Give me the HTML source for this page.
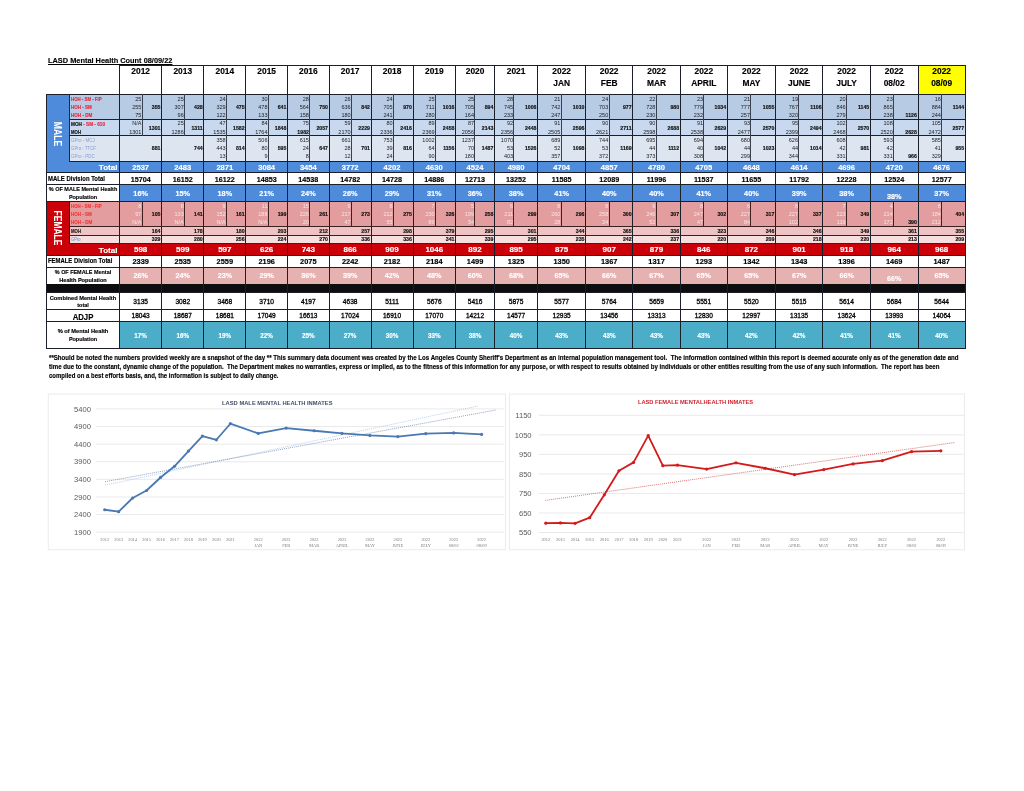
<!DOCTYPE html>
<html><head><meta charset="utf-8"><style>
html,body{margin:0;padding:0;background:#fff;width:1024px;height:791px;overflow:hidden;}
body{position:relative;font-family:"Liberation Sans", sans-serif;}
#pg div{position:absolute;}
#pg{position:absolute;left:0;top:0;width:1024px;height:791px;filter:blur(0.4px);}
.t{white-space:nowrap;font-family:"Liberation Sans", sans-serif;}
</style></head><body><div id="pg">
<svg width="1024" height="791" style="position:absolute;left:0;top:0">
<rect x="48.2" y="394" width="457.2" height="155.8" fill="#fff" stroke="#e6e6e6" stroke-width="0.8"/>
<rect x="509.3" y="394" width="455.1" height="155.8" fill="#fff" stroke="#e6e6e6" stroke-width="0.8"/>
<line x1="96" y1="532.20" x2="503.6" y2="532.20" stroke="#e3e3e3" stroke-width="0.8"/>
<text x="91" y="534.90" font-size="7.6" fill="#595959" text-anchor="end" font-family="Liberation Sans">1900</text>
<line x1="96" y1="514.59" x2="503.6" y2="514.59" stroke="#e3e3e3" stroke-width="0.8"/>
<text x="91" y="517.29" font-size="7.6" fill="#595959" text-anchor="end" font-family="Liberation Sans">2400</text>
<line x1="96" y1="496.98" x2="503.6" y2="496.98" stroke="#e3e3e3" stroke-width="0.8"/>
<text x="91" y="499.68" font-size="7.6" fill="#595959" text-anchor="end" font-family="Liberation Sans">2900</text>
<line x1="96" y1="479.37" x2="503.6" y2="479.37" stroke="#e3e3e3" stroke-width="0.8"/>
<text x="91" y="482.07" font-size="7.6" fill="#595959" text-anchor="end" font-family="Liberation Sans">3400</text>
<line x1="96" y1="461.76" x2="503.6" y2="461.76" stroke="#e3e3e3" stroke-width="0.8"/>
<text x="91" y="464.46" font-size="7.6" fill="#595959" text-anchor="end" font-family="Liberation Sans">3900</text>
<line x1="96" y1="444.15" x2="503.6" y2="444.15" stroke="#e3e3e3" stroke-width="0.8"/>
<text x="91" y="446.85" font-size="7.6" fill="#595959" text-anchor="end" font-family="Liberation Sans">4400</text>
<line x1="96" y1="426.54" x2="503.6" y2="426.54" stroke="#e3e3e3" stroke-width="0.8"/>
<text x="91" y="429.24" font-size="7.6" fill="#595959" text-anchor="end" font-family="Liberation Sans">4900</text>
<line x1="96" y1="408.93" x2="503.6" y2="408.93" stroke="#e3e3e3" stroke-width="0.8"/>
<text x="91" y="411.63" font-size="7.6" fill="#595959" text-anchor="end" font-family="Liberation Sans">5400</text>
<line x1="539" y1="532.50" x2="963.7" y2="532.50" stroke="#e3e3e3" stroke-width="0.8"/>
<text x="531.6" y="535.20" font-size="7.6" fill="#595959" text-anchor="end" font-family="Liberation Sans">550</text>
<line x1="539" y1="512.97" x2="963.7" y2="512.97" stroke="#e3e3e3" stroke-width="0.8"/>
<text x="531.6" y="515.67" font-size="7.6" fill="#595959" text-anchor="end" font-family="Liberation Sans">650</text>
<line x1="539" y1="493.44" x2="963.7" y2="493.44" stroke="#e3e3e3" stroke-width="0.8"/>
<text x="531.6" y="496.14" font-size="7.6" fill="#595959" text-anchor="end" font-family="Liberation Sans">750</text>
<line x1="539" y1="473.91" x2="963.7" y2="473.91" stroke="#e3e3e3" stroke-width="0.8"/>
<text x="531.6" y="476.61" font-size="7.6" fill="#595959" text-anchor="end" font-family="Liberation Sans">850</text>
<line x1="539" y1="454.38" x2="963.7" y2="454.38" stroke="#e3e3e3" stroke-width="0.8"/>
<text x="531.6" y="457.08" font-size="7.6" fill="#595959" text-anchor="end" font-family="Liberation Sans">950</text>
<line x1="539" y1="434.85" x2="963.7" y2="434.85" stroke="#e3e3e3" stroke-width="0.8"/>
<text x="531.6" y="437.55" font-size="7.6" fill="#595959" text-anchor="end" font-family="Liberation Sans">1050</text>
<line x1="539" y1="415.32" x2="963.7" y2="415.32" stroke="#e3e3e3" stroke-width="0.8"/>
<text x="531.6" y="418.02" font-size="7.6" fill="#595959" text-anchor="end" font-family="Liberation Sans">1150</text>
<text x="277.3" y="404.9" font-size="5.9" font-weight="bold" fill="#3f4e6b" text-anchor="middle" font-family="Liberation Sans" textLength="110.4" lengthAdjust="spacingAndGlyphs">LASD MALE MENTAL HEALTH INMATES</text>
<text x="695.5" y="403.6" font-size="5.9" font-weight="bold" fill="#cc1f2c" text-anchor="middle" font-family="Liberation Sans" textLength="115.2" lengthAdjust="spacingAndGlyphs">LASD FEMALE MENTALHEALTH INMATES</text>
<text x="104.70" y="540.6" font-size="4.4" fill="#7a7a7a" text-anchor="middle" font-family="Liberation Serif">2012</text>
<text x="545.80" y="540.6" font-size="4.4" fill="#7a7a7a" text-anchor="middle" font-family="Liberation Serif">2012</text>
<text x="118.66" y="540.6" font-size="4.4" fill="#7a7a7a" text-anchor="middle" font-family="Liberation Serif">2013</text>
<text x="560.43" y="540.6" font-size="4.4" fill="#7a7a7a" text-anchor="middle" font-family="Liberation Serif">2013</text>
<text x="132.62" y="540.6" font-size="4.4" fill="#7a7a7a" text-anchor="middle" font-family="Liberation Serif">2014</text>
<text x="575.06" y="540.6" font-size="4.4" fill="#7a7a7a" text-anchor="middle" font-family="Liberation Serif">2014</text>
<text x="146.58" y="540.6" font-size="4.4" fill="#7a7a7a" text-anchor="middle" font-family="Liberation Serif">2015</text>
<text x="589.69" y="540.6" font-size="4.4" fill="#7a7a7a" text-anchor="middle" font-family="Liberation Serif">2015</text>
<text x="160.54" y="540.6" font-size="4.4" fill="#7a7a7a" text-anchor="middle" font-family="Liberation Serif">2016</text>
<text x="604.32" y="540.6" font-size="4.4" fill="#7a7a7a" text-anchor="middle" font-family="Liberation Serif">2016</text>
<text x="174.50" y="540.6" font-size="4.4" fill="#7a7a7a" text-anchor="middle" font-family="Liberation Serif">2017</text>
<text x="618.95" y="540.6" font-size="4.4" fill="#7a7a7a" text-anchor="middle" font-family="Liberation Serif">2017</text>
<text x="188.46" y="540.6" font-size="4.4" fill="#7a7a7a" text-anchor="middle" font-family="Liberation Serif">2018</text>
<text x="633.58" y="540.6" font-size="4.4" fill="#7a7a7a" text-anchor="middle" font-family="Liberation Serif">2018</text>
<text x="202.42" y="540.6" font-size="4.4" fill="#7a7a7a" text-anchor="middle" font-family="Liberation Serif">2019</text>
<text x="648.21" y="540.6" font-size="4.4" fill="#7a7a7a" text-anchor="middle" font-family="Liberation Serif">2019</text>
<text x="216.38" y="540.6" font-size="4.4" fill="#7a7a7a" text-anchor="middle" font-family="Liberation Serif">2020</text>
<text x="662.84" y="540.6" font-size="4.4" fill="#7a7a7a" text-anchor="middle" font-family="Liberation Serif">2020</text>
<text x="230.34" y="540.6" font-size="4.4" fill="#7a7a7a" text-anchor="middle" font-family="Liberation Serif">2021</text>
<text x="677.47" y="540.6" font-size="4.4" fill="#7a7a7a" text-anchor="middle" font-family="Liberation Serif">2021</text>
<text x="258.26" y="540.6" font-size="4.4" fill="#7a7a7a" text-anchor="middle" font-family="Liberation Serif">2022</text>
<text x="258.26" y="547.0" font-size="4.4" fill="#7a7a7a" text-anchor="middle" font-family="Liberation Serif">JAN</text>
<text x="706.73" y="540.6" font-size="4.4" fill="#7a7a7a" text-anchor="middle" font-family="Liberation Serif">2022</text>
<text x="706.73" y="547.0" font-size="4.4" fill="#7a7a7a" text-anchor="middle" font-family="Liberation Serif">JAN</text>
<text x="286.18" y="540.6" font-size="4.4" fill="#7a7a7a" text-anchor="middle" font-family="Liberation Serif">2022</text>
<text x="286.18" y="547.0" font-size="4.4" fill="#7a7a7a" text-anchor="middle" font-family="Liberation Serif">FEB</text>
<text x="735.99" y="540.6" font-size="4.4" fill="#7a7a7a" text-anchor="middle" font-family="Liberation Serif">2022</text>
<text x="735.99" y="547.0" font-size="4.4" fill="#7a7a7a" text-anchor="middle" font-family="Liberation Serif">FEB</text>
<text x="314.10" y="540.6" font-size="4.4" fill="#7a7a7a" text-anchor="middle" font-family="Liberation Serif">2022</text>
<text x="314.10" y="547.0" font-size="4.4" fill="#7a7a7a" text-anchor="middle" font-family="Liberation Serif">MAR</text>
<text x="765.25" y="540.6" font-size="4.4" fill="#7a7a7a" text-anchor="middle" font-family="Liberation Serif">2022</text>
<text x="765.25" y="547.0" font-size="4.4" fill="#7a7a7a" text-anchor="middle" font-family="Liberation Serif">MAR</text>
<text x="342.02" y="540.6" font-size="4.4" fill="#7a7a7a" text-anchor="middle" font-family="Liberation Serif">2022</text>
<text x="342.02" y="547.0" font-size="4.4" fill="#7a7a7a" text-anchor="middle" font-family="Liberation Serif">APRIL</text>
<text x="794.51" y="540.6" font-size="4.4" fill="#7a7a7a" text-anchor="middle" font-family="Liberation Serif">2022</text>
<text x="794.51" y="547.0" font-size="4.4" fill="#7a7a7a" text-anchor="middle" font-family="Liberation Serif">APRIL</text>
<text x="369.94" y="540.6" font-size="4.4" fill="#7a7a7a" text-anchor="middle" font-family="Liberation Serif">2022</text>
<text x="369.94" y="547.0" font-size="4.4" fill="#7a7a7a" text-anchor="middle" font-family="Liberation Serif">MAY</text>
<text x="823.77" y="540.6" font-size="4.4" fill="#7a7a7a" text-anchor="middle" font-family="Liberation Serif">2022</text>
<text x="823.77" y="547.0" font-size="4.4" fill="#7a7a7a" text-anchor="middle" font-family="Liberation Serif">MAY</text>
<text x="397.86" y="540.6" font-size="4.4" fill="#7a7a7a" text-anchor="middle" font-family="Liberation Serif">2022</text>
<text x="397.86" y="547.0" font-size="4.4" fill="#7a7a7a" text-anchor="middle" font-family="Liberation Serif">JUNE</text>
<text x="853.03" y="540.6" font-size="4.4" fill="#7a7a7a" text-anchor="middle" font-family="Liberation Serif">2022</text>
<text x="853.03" y="547.0" font-size="4.4" fill="#7a7a7a" text-anchor="middle" font-family="Liberation Serif">JUNE</text>
<text x="425.78" y="540.6" font-size="4.4" fill="#7a7a7a" text-anchor="middle" font-family="Liberation Serif">2022</text>
<text x="425.78" y="547.0" font-size="4.4" fill="#7a7a7a" text-anchor="middle" font-family="Liberation Serif">JULY</text>
<text x="882.29" y="540.6" font-size="4.4" fill="#7a7a7a" text-anchor="middle" font-family="Liberation Serif">2022</text>
<text x="882.29" y="547.0" font-size="4.4" fill="#7a7a7a" text-anchor="middle" font-family="Liberation Serif">JULY</text>
<text x="453.70" y="540.6" font-size="4.4" fill="#7a7a7a" text-anchor="middle" font-family="Liberation Serif">2022</text>
<text x="453.70" y="547.0" font-size="4.4" fill="#7a7a7a" text-anchor="middle" font-family="Liberation Serif">08/02</text>
<text x="911.55" y="540.6" font-size="4.4" fill="#7a7a7a" text-anchor="middle" font-family="Liberation Serif">2022</text>
<text x="911.55" y="547.0" font-size="4.4" fill="#7a7a7a" text-anchor="middle" font-family="Liberation Serif">08/02</text>
<text x="481.62" y="540.6" font-size="4.4" fill="#7a7a7a" text-anchor="middle" font-family="Liberation Serif">2022</text>
<text x="481.62" y="547.0" font-size="4.4" fill="#7a7a7a" text-anchor="middle" font-family="Liberation Serif">08/09</text>
<text x="940.81" y="540.6" font-size="4.4" fill="#7a7a7a" text-anchor="middle" font-family="Liberation Serif">2022</text>
<text x="940.81" y="547.0" font-size="4.4" fill="#7a7a7a" text-anchor="middle" font-family="Liberation Serif">08/09</text>
<line x1="105" y1="485.2" x2="478.2" y2="406" stroke="#a9c4e4" stroke-width="0.8" stroke-dasharray="1,1"/>
<line x1="105" y1="481.7" x2="495.9" y2="410" stroke="#6e8cb8" stroke-width="0.8" stroke-dasharray="1,1"/>
<line x1="545.3" y1="500.4" x2="954.9" y2="442.5" stroke="#d05050" stroke-width="0.8" stroke-dasharray="1,1"/>
<polyline fill="none" stroke="#4a78b3" stroke-width="1.8" stroke-linejoin="round" points="104.70,509.76 118.66,511.67 132.62,498.00 146.58,490.50 160.54,477.47 174.50,466.27 188.46,451.12 202.42,436.05 216.38,439.78 230.34,423.72 258.26,433.44 286.18,428.05 314.10,430.77 342.02,433.41 369.94,435.42 397.86,436.61 425.78,433.72 453.70,432.88 481.62,434.43"/>
<circle cx="104.70" cy="509.76" r="1.6" fill="#4a78b3"/>
<circle cx="118.66" cy="511.67" r="1.6" fill="#4a78b3"/>
<circle cx="132.62" cy="498.00" r="1.6" fill="#4a78b3"/>
<circle cx="146.58" cy="490.50" r="1.6" fill="#4a78b3"/>
<circle cx="160.54" cy="477.47" r="1.6" fill="#4a78b3"/>
<circle cx="174.50" cy="466.27" r="1.6" fill="#4a78b3"/>
<circle cx="188.46" cy="451.12" r="1.6" fill="#4a78b3"/>
<circle cx="202.42" cy="436.05" r="1.6" fill="#4a78b3"/>
<circle cx="216.38" cy="439.78" r="1.6" fill="#4a78b3"/>
<circle cx="230.34" cy="423.72" r="1.6" fill="#4a78b3"/>
<circle cx="258.26" cy="433.44" r="1.6" fill="#4a78b3"/>
<circle cx="286.18" cy="428.05" r="1.6" fill="#4a78b3"/>
<circle cx="314.10" cy="430.77" r="1.6" fill="#4a78b3"/>
<circle cx="342.02" cy="433.41" r="1.6" fill="#4a78b3"/>
<circle cx="369.94" cy="435.42" r="1.6" fill="#4a78b3"/>
<circle cx="397.86" cy="436.61" r="1.6" fill="#4a78b3"/>
<circle cx="425.78" cy="433.72" r="1.6" fill="#4a78b3"/>
<circle cx="453.70" cy="432.88" r="1.6" fill="#4a78b3"/>
<circle cx="481.62" cy="434.43" r="1.6" fill="#4a78b3"/>
<polyline fill="none" stroke="#d41a1a" stroke-width="1.8" stroke-linejoin="round" points="545.80,523.13 560.43,522.93 575.06,523.32 589.69,517.66 604.32,494.81 618.95,470.79 633.58,462.39 648.21,435.63 662.84,465.71 677.47,465.12 706.73,469.03 735.99,462.78 765.25,468.25 794.51,474.69 823.77,469.61 853.03,463.95 882.29,460.63 911.55,451.65 940.81,450.86"/>
<circle cx="545.80" cy="523.13" r="1.6" fill="#d41a1a"/>
<circle cx="560.43" cy="522.93" r="1.6" fill="#d41a1a"/>
<circle cx="575.06" cy="523.32" r="1.6" fill="#d41a1a"/>
<circle cx="589.69" cy="517.66" r="1.6" fill="#d41a1a"/>
<circle cx="604.32" cy="494.81" r="1.6" fill="#d41a1a"/>
<circle cx="618.95" cy="470.79" r="1.6" fill="#d41a1a"/>
<circle cx="633.58" cy="462.39" r="1.6" fill="#d41a1a"/>
<circle cx="648.21" cy="435.63" r="1.6" fill="#d41a1a"/>
<circle cx="662.84" cy="465.71" r="1.6" fill="#d41a1a"/>
<circle cx="677.47" cy="465.12" r="1.6" fill="#d41a1a"/>
<circle cx="706.73" cy="469.03" r="1.6" fill="#d41a1a"/>
<circle cx="735.99" cy="462.78" r="1.6" fill="#d41a1a"/>
<circle cx="765.25" cy="468.25" r="1.6" fill="#d41a1a"/>
<circle cx="794.51" cy="474.69" r="1.6" fill="#d41a1a"/>
<circle cx="823.77" cy="469.61" r="1.6" fill="#d41a1a"/>
<circle cx="853.03" cy="463.95" r="1.6" fill="#d41a1a"/>
<circle cx="882.29" cy="460.63" r="1.6" fill="#d41a1a"/>
<circle cx="911.55" cy="451.65" r="1.6" fill="#d41a1a"/>
<circle cx="940.81" cy="450.86" r="1.6" fill="#d41a1a"/>
</svg>
<div class="t" id="w1" style="left:48.10px;top:56.70px;font-size:7.5px;line-height:7.5px;color:#000;font-weight:bold;transform:scaleX(0.9851);transform-origin:left center;-webkit-text-stroke:0.15px currentColor;"><u>LASD Mental Health Count 08/09/22</u></div>
<div style="left:119.70px;top:65.00px;width:845.60px;height:29.50px;background:#fff;"></div>
<div style="left:918.00px;top:65.00px;width:47.30px;height:29.50px;background:#ffff00;"></div>
<div class="t" style="left:140.65px;top:67.44px;font-size:8.4px;line-height:8.4px;color:#000;font-weight:bold;transform:translateX(-50%) scaleX(1.0000);transform-origin:center center;-webkit-text-stroke:0.15px currentColor;">2012</div>
<div class="t" style="left:182.75px;top:67.44px;font-size:8.4px;line-height:8.4px;color:#000;font-weight:bold;transform:translateX(-50%) scaleX(1.0000);transform-origin:center center;-webkit-text-stroke:0.15px currentColor;">2013</div>
<div class="t" style="left:224.85px;top:67.44px;font-size:8.4px;line-height:8.4px;color:#000;font-weight:bold;transform:translateX(-50%) scaleX(1.0000);transform-origin:center center;-webkit-text-stroke:0.15px currentColor;">2014</div>
<div class="t" style="left:266.65px;top:67.44px;font-size:8.4px;line-height:8.4px;color:#000;font-weight:bold;transform:translateX(-50%) scaleX(1.0000);transform-origin:center center;-webkit-text-stroke:0.15px currentColor;">2015</div>
<div class="t" style="left:308.35px;top:67.44px;font-size:8.4px;line-height:8.4px;color:#000;font-weight:bold;transform:translateX(-50%) scaleX(1.0000);transform-origin:center center;-webkit-text-stroke:0.15px currentColor;">2016</div>
<div class="t" style="left:350.15px;top:67.44px;font-size:8.4px;line-height:8.4px;color:#000;font-weight:bold;transform:translateX(-50%) scaleX(1.0000);transform-origin:center center;-webkit-text-stroke:0.15px currentColor;">2017</div>
<div class="t" style="left:392.05px;top:67.44px;font-size:8.4px;line-height:8.4px;color:#000;font-weight:bold;transform:translateX(-50%) scaleX(1.0000);transform-origin:center center;-webkit-text-stroke:0.15px currentColor;">2018</div>
<div class="t" style="left:434.30px;top:67.44px;font-size:8.4px;line-height:8.4px;color:#000;font-weight:bold;transform:translateX(-50%) scaleX(1.0000);transform-origin:center center;-webkit-text-stroke:0.15px currentColor;">2019</div>
<div class="t" style="left:475.05px;top:67.44px;font-size:8.4px;line-height:8.4px;color:#000;font-weight:bold;transform:translateX(-50%) scaleX(1.0000);transform-origin:center center;-webkit-text-stroke:0.15px currentColor;">2020</div>
<div class="t" style="left:516.10px;top:67.44px;font-size:8.4px;line-height:8.4px;color:#000;font-weight:bold;transform:translateX(-50%) scaleX(1.0000);transform-origin:center center;-webkit-text-stroke:0.15px currentColor;">2021</div>
<div class="t" style="left:561.65px;top:67.44px;font-size:8.4px;line-height:8.4px;color:#000;font-weight:bold;transform:translateX(-50%) scaleX(1.0000);transform-origin:center center;-webkit-text-stroke:0.15px currentColor;">2022</div>
<div class="t" style="left:561.65px;top:79.24px;font-size:8.4px;line-height:8.4px;color:#000;font-weight:bold;transform:translateX(-50%) scaleX(1.0000);transform-origin:center center;-webkit-text-stroke:0.15px currentColor;">JAN</div>
<div class="t" style="left:609.20px;top:67.44px;font-size:8.4px;line-height:8.4px;color:#000;font-weight:bold;transform:translateX(-50%) scaleX(1.0000);transform-origin:center center;-webkit-text-stroke:0.15px currentColor;">2022</div>
<div class="t" style="left:609.20px;top:79.24px;font-size:8.4px;line-height:8.4px;color:#000;font-weight:bold;transform:translateX(-50%) scaleX(1.0000);transform-origin:center center;-webkit-text-stroke:0.15px currentColor;">FEB</div>
<div class="t" style="left:656.55px;top:67.44px;font-size:8.4px;line-height:8.4px;color:#000;font-weight:bold;transform:translateX(-50%) scaleX(1.0000);transform-origin:center center;-webkit-text-stroke:0.15px currentColor;">2022</div>
<div class="t" style="left:656.55px;top:79.24px;font-size:8.4px;line-height:8.4px;color:#000;font-weight:bold;transform:translateX(-50%) scaleX(1.0000);transform-origin:center center;-webkit-text-stroke:0.15px currentColor;">MAR</div>
<div class="t" style="left:703.80px;top:67.44px;font-size:8.4px;line-height:8.4px;color:#000;font-weight:bold;transform:translateX(-50%) scaleX(1.0000);transform-origin:center center;-webkit-text-stroke:0.15px currentColor;">2022</div>
<div class="t" style="left:703.80px;top:79.24px;font-size:8.4px;line-height:8.4px;color:#000;font-weight:bold;transform:translateX(-50%) scaleX(1.0000);transform-origin:center center;-webkit-text-stroke:0.15px currentColor;">APRIL</div>
<div class="t" style="left:751.40px;top:67.44px;font-size:8.4px;line-height:8.4px;color:#000;font-weight:bold;transform:translateX(-50%) scaleX(1.0000);transform-origin:center center;-webkit-text-stroke:0.15px currentColor;">2022</div>
<div class="t" style="left:751.40px;top:79.24px;font-size:8.4px;line-height:8.4px;color:#000;font-weight:bold;transform:translateX(-50%) scaleX(1.0000);transform-origin:center center;-webkit-text-stroke:0.15px currentColor;">MAY</div>
<div class="t" style="left:799.15px;top:67.44px;font-size:8.4px;line-height:8.4px;color:#000;font-weight:bold;transform:translateX(-50%) scaleX(1.0000);transform-origin:center center;-webkit-text-stroke:0.15px currentColor;">2022</div>
<div class="t" style="left:799.15px;top:79.24px;font-size:8.4px;line-height:8.4px;color:#000;font-weight:bold;transform:translateX(-50%) scaleX(1.0000);transform-origin:center center;-webkit-text-stroke:0.15px currentColor;">JUNE</div>
<div class="t" style="left:846.60px;top:67.44px;font-size:8.4px;line-height:8.4px;color:#000;font-weight:bold;transform:translateX(-50%) scaleX(1.0000);transform-origin:center center;-webkit-text-stroke:0.15px currentColor;">2022</div>
<div class="t" style="left:846.60px;top:79.24px;font-size:8.4px;line-height:8.4px;color:#000;font-weight:bold;transform:translateX(-50%) scaleX(1.0000);transform-origin:center center;-webkit-text-stroke:0.15px currentColor;">JULY</div>
<div class="t" style="left:894.20px;top:67.44px;font-size:8.4px;line-height:8.4px;color:#000;font-weight:bold;transform:translateX(-50%) scaleX(1.0000);transform-origin:center center;-webkit-text-stroke:0.15px currentColor;">2022</div>
<div class="t" style="left:894.20px;top:79.24px;font-size:8.4px;line-height:8.4px;color:#000;font-weight:bold;transform:translateX(-50%) scaleX(1.0000);transform-origin:center center;-webkit-text-stroke:0.15px currentColor;">08/02</div>
<div class="t" style="left:941.65px;top:67.44px;font-size:8.4px;line-height:8.4px;color:#000;font-weight:bold;transform:translateX(-50%) scaleX(1.0000);transform-origin:center center;-webkit-text-stroke:0.15px currentColor;">2022</div>
<div class="t" style="left:941.65px;top:79.24px;font-size:8.4px;line-height:8.4px;color:#000;font-weight:bold;transform:translateX(-50%) scaleX(1.0000);transform-origin:center center;-webkit-text-stroke:0.15px currentColor;">08/09</div>
<div style="left:46.80px;top:94.50px;width:22.70px;height:77.80px;background:#4e8cdb;"></div>
<div style="left:46.80px;top:161.10px;width:918.50px;height:11.20px;background:#4e8cdb;"></div>
<div style="left:69.50px;top:94.50px;width:895.80px;height:24.80px;background:#b8cbe4;"></div>
<div style="left:69.50px;top:119.30px;width:895.80px;height:16.40px;background:#c8d8ee;"></div>
<div style="left:69.50px;top:135.70px;width:895.80px;height:25.40px;background:#dde5f1;"></div>
<div style="left:46.80px;top:172.30px;width:918.50px;height:12.20px;background:#fff;"></div>
<div style="left:46.80px;top:184.50px;width:72.90px;height:17.10px;background:#fff;"></div>
<div style="left:119.70px;top:184.50px;width:845.60px;height:17.10px;background:#4e8cdb;"></div>
<div style="left:46.80px;top:201.60px;width:22.70px;height:53.50px;background:#cc0008;"></div>
<div style="left:46.80px;top:243.30px;width:918.50px;height:11.80px;background:#cc0008;"></div>
<div style="left:69.50px;top:201.60px;width:895.80px;height:24.70px;background:#e49d9f;"></div>
<div style="left:69.50px;top:226.30px;width:895.80px;height:8.70px;background:#efc3c4;"></div>
<div style="left:69.50px;top:235.00px;width:895.80px;height:8.30px;background:#f6dfdf;"></div>
<div style="left:46.80px;top:255.10px;width:918.50px;height:12.10px;background:#fff;"></div>
<div style="left:46.80px;top:267.20px;width:72.90px;height:16.50px;background:#fff;"></div>
<div style="left:119.70px;top:267.20px;width:845.60px;height:16.50px;background:#e5b1b1;"></div>
<div style="left:46.80px;top:283.70px;width:918.50px;height:8.80px;background:#0d0d0d;"></div>
<div style="left:46.80px;top:292.50px;width:918.50px;height:29.00px;background:#fff;"></div>
<div style="left:46.80px;top:321.50px;width:72.90px;height:26.70px;background:#fff;"></div>
<div style="left:119.70px;top:321.50px;width:845.60px;height:26.70px;background:#4badc7;"></div>
<div class="t" style="left:37.05px;top:129.00px;width:40px;height:10px;line-height:10px;font-size:10px;font-weight:bold;color:#fff;text-align:center;transform:rotate(90deg) scaleX(0.87);transform-origin:center center;">MALE</div>
<div class="t" style="left:32.05px;top:223.40px;width:50px;height:10px;line-height:10px;font-size:10px;font-weight:bold;color:#fff;text-align:center;transform:rotate(90deg) scaleX(0.85);transform-origin:center center;">FEMALE</div>
<div class="t" id="w2" style="left:71.30px;top:97.02px;font-size:5.0px;line-height:5.0px;color:#e8283c;font-weight:bold;transform:scaleX(0.8673);transform-origin:left center;-webkit-text-stroke:0.15px currentColor;">HOH - SM - FIP</div>
<div class="t" id="w3" style="left:71.30px;top:105.12px;font-size:5.0px;line-height:5.0px;color:#e8283c;font-weight:bold;transform:scaleX(0.9062);transform-origin:left center;-webkit-text-stroke:0.15px currentColor;">HOH - SM</div>
<div class="t" id="w4" style="left:71.30px;top:113.32px;font-size:5.0px;line-height:5.0px;color:#e8283c;font-weight:bold;transform:scaleX(0.9124);transform-origin:left center;-webkit-text-stroke:0.15px currentColor;">HOH - DM</div>
<div class="t" id="w5" style="left:71.30px;top:121.92px;font-size:5.0px;line-height:5.0px;color:#111;font-weight:bold;transform:scaleX(0.9339);transform-origin:left center;-webkit-text-stroke:0.15px currentColor;">MOH <span style="color:#e8283c">- SM - 610</span></div>
<div class="t" id="w6" style="left:71.30px;top:130.02px;font-size:5.0px;line-height:5.0px;color:#111;font-weight:bold;transform:scaleX(0.8568);transform-origin:left center;-webkit-text-stroke:0.15px currentColor;">MOH</div>
<div class="t" id="w7" style="left:71.30px;top:138.02px;font-size:5.0px;line-height:5.0px;color:#8aa0d4;font-weight:normal;transform:scaleX(0.8980);transform-origin:left center;">GPro - MCJ</div>
<div class="t" id="w8" style="left:71.30px;top:146.12px;font-size:5.0px;line-height:5.0px;color:#8aa0d4;font-weight:normal;transform:scaleX(0.8681);transform-origin:left center;">GPro - TTCF</div>
<div class="t" id="w9" style="left:71.30px;top:154.22px;font-size:5.0px;line-height:5.0px;color:#8aa0d4;font-weight:normal;transform:scaleX(0.8886);transform-origin:left center;">GPro - PDC</div>
<div class="t" id="w10" style="right:906.40px;top:163.58px;font-size:8.0px;line-height:8.0px;color:#fff;font-weight:bold;transform:scaleX(1.0100);transform-origin:right center;-webkit-text-stroke:0.15px currentColor;">Total</div>
<div class="t" id="w11" style="left:47.80px;top:175.99px;font-size:6.8px;line-height:6.8px;color:#000;font-weight:bold;transform:scaleX(0.8727);transform-origin:left center;-webkit-text-stroke:0.15px currentColor;">MALE Division Total</div>
<div class="t" id="w12" style="left:82.75px;top:186.47px;font-size:6.0px;line-height:6.0px;color:#000;font-weight:bold;transform:translateX(-50%) scaleX(0.9173);transform-origin:center center;-webkit-text-stroke:0.15px currentColor;">% OF MALE Mental Health</div>
<div class="t" id="w13" style="left:82.90px;top:194.37px;font-size:6.0px;line-height:6.0px;color:#000;font-weight:bold;transform:translateX(-50%) scaleX(0.9097);transform-origin:center center;-webkit-text-stroke:0.15px currentColor;">Population</div>
<div class="t" id="w14" style="left:71.30px;top:204.02px;font-size:5.0px;line-height:5.0px;color:#ee3a3a;font-weight:bold;transform:scaleX(0.8673);transform-origin:left center;-webkit-text-stroke:0.15px currentColor;">HOH - SM - FIP</div>
<div class="t" id="w15" style="left:71.30px;top:212.02px;font-size:5.0px;line-height:5.0px;color:#ee3a3a;font-weight:bold;transform:scaleX(0.9062);transform-origin:left center;-webkit-text-stroke:0.15px currentColor;">HOH - SM</div>
<div class="t" id="w16" style="left:71.30px;top:220.12px;font-size:5.0px;line-height:5.0px;color:#ee3a3a;font-weight:bold;transform:scaleX(0.9124);transform-origin:left center;-webkit-text-stroke:0.15px currentColor;">HOH - DM</div>
<div class="t" id="w17" style="left:71.30px;top:228.82px;font-size:5.0px;line-height:5.0px;color:#222;font-weight:bold;transform:scaleX(0.8568);transform-origin:left center;-webkit-text-stroke:0.15px currentColor;">MOH</div>
<div class="t" id="w18" style="left:71.30px;top:236.92px;font-size:5.0px;line-height:5.0px;color:#5b8fd4;font-weight:normal;transform:scaleX(0.8139);transform-origin:left center;">GPro</div>
<div class="t" id="w19" style="right:906.60px;top:246.58px;font-size:8.0px;line-height:8.0px;color:#fff;font-weight:bold;transform:scaleX(1.0100);transform-origin:right center;-webkit-text-stroke:0.15px currentColor;">Total</div>
<div class="t" id="w20" style="left:47.60px;top:258.19px;font-size:6.8px;line-height:6.8px;color:#000;font-weight:bold;transform:scaleX(0.8702);transform-origin:left center;-webkit-text-stroke:0.15px currentColor;">FEMALE Division Total</div>
<div class="t" id="w21" style="left:82.80px;top:268.97px;font-size:6.0px;line-height:6.0px;color:#000;font-weight:bold;transform:translateX(-50%) scaleX(0.9047);transform-origin:center center;-webkit-text-stroke:0.15px currentColor;">% OF FEMALE Mental</div>
<div class="t" id="w22" style="left:82.80px;top:276.77px;font-size:6.0px;line-height:6.0px;color:#000;font-weight:bold;transform:translateX(-50%) scaleX(0.9314);transform-origin:center center;-webkit-text-stroke:0.15px currentColor;">Health Population</div>
<div class="t" id="w23" style="left:83.00px;top:294.57px;font-size:6.0px;line-height:6.0px;color:#000;font-weight:bold;transform:translateX(-50%) scaleX(0.9498);transform-origin:center center;-webkit-text-stroke:0.15px currentColor;">Combined Mental Health</div>
<div class="t" id="w24" style="left:83.00px;top:302.47px;font-size:6.0px;line-height:6.0px;color:#000;font-weight:bold;transform:translateX(-50%) scaleX(0.9075);transform-origin:center center;-webkit-text-stroke:0.15px currentColor;">total</div>
<div class="t" id="w25" style="left:82.85px;top:312.67px;font-size:8.6px;line-height:8.6px;color:#000;font-weight:bold;transform:translateX(-50%) scaleX(0.9025);transform-origin:center center;-webkit-text-stroke:0.15px currentColor;">ADJP</div>
<div class="t" id="w26" style="left:82.75px;top:328.07px;font-size:6.0px;line-height:6.0px;color:#000;font-weight:bold;transform:translateX(-50%) scaleX(0.9504);transform-origin:center center;-webkit-text-stroke:0.15px currentColor;">% of Mental Health</div>
<div class="t" id="w27" style="left:82.90px;top:336.07px;font-size:6.0px;line-height:6.0px;color:#000;font-weight:bold;transform:translateX(-50%) scaleX(0.9097);transform-origin:center center;-webkit-text-stroke:0.15px currentColor;">Population</div>
<div class="t" style="right:882.60px;top:96.59px;font-size:5.5px;line-height:5.5px;color:#1e1e1e;font-weight:normal;">25</div>
<div class="t" style="right:882.60px;top:104.74px;font-size:5.5px;line-height:5.5px;color:#1e1e1e;font-weight:normal;">255</div>
<div class="t" style="right:882.60px;top:112.89px;font-size:5.5px;line-height:5.5px;color:#1e1e1e;font-weight:normal;">75</div>
<div class="t" style="right:863.60px;top:105.05px;font-size:5.2px;line-height:5.2px;color:#111;font-weight:bold;-webkit-text-stroke:0.15px currentColor;">355</div>
<div class="t" style="right:882.60px;top:121.49px;font-size:5.5px;line-height:5.5px;color:#1e1e1e;font-weight:normal;">N/A</div>
<div class="t" style="right:882.60px;top:129.59px;font-size:5.5px;line-height:5.5px;color:#1e1e1e;font-weight:normal;">1301</div>
<div class="t" style="right:863.60px;top:125.95px;font-size:5.2px;line-height:5.2px;color:#111;font-weight:bold;-webkit-text-stroke:0.15px currentColor;">1301</div>
<div class="t" style="right:863.60px;top:145.95px;font-size:5.2px;line-height:5.2px;color:#111;font-weight:bold;-webkit-text-stroke:0.15px currentColor;">881</div>
<div class="t" style="left:140.65px;top:164.12px;font-size:7.6px;line-height:7.6px;color:#fff;font-weight:bold;transform:translateX(-50%) scaleX(1.0000);transform-origin:center center;-webkit-text-stroke:0.15px currentColor;">2537</div>
<div class="t" style="left:140.65px;top:176.16px;font-size:7.2px;line-height:7.2px;color:#000;font-weight:bold;transform:translateX(-50%) scaleX(1.0000);transform-origin:center center;-webkit-text-stroke:0.15px currentColor;">15704</div>
<div class="t" style="left:140.65px;top:189.97px;font-size:7.3px;line-height:7.3px;color:#fff;font-weight:bold;transform:translateX(-50%) scaleX(1.0000);transform-origin:center center;-webkit-text-stroke:0.15px currentColor;">16%</div>
<div class="t" style="right:882.60px;top:203.59px;font-size:5.5px;line-height:5.5px;color:#f4e6e6;font-weight:normal;">8</div>
<div class="t" style="right:882.60px;top:211.64px;font-size:5.5px;line-height:5.5px;color:#f4e6e6;font-weight:normal;">97</div>
<div class="t" style="right:882.60px;top:219.69px;font-size:5.5px;line-height:5.5px;color:#f4e6e6;font-weight:normal;">N/A</div>
<div class="t" style="right:863.60px;top:211.95px;font-size:5.2px;line-height:5.2px;color:#111;font-weight:bold;-webkit-text-stroke:0.15px currentColor;">105</div>
<div class="t" style="right:863.60px;top:228.65px;font-size:5.2px;line-height:5.2px;color:#111;font-weight:bold;-webkit-text-stroke:0.15px currentColor;">164</div>
<div class="t" style="right:863.60px;top:236.75px;font-size:5.2px;line-height:5.2px;color:#111;font-weight:bold;-webkit-text-stroke:0.15px currentColor;">329</div>
<div class="t" style="left:140.65px;top:245.98px;font-size:8.0px;line-height:8.0px;color:#fff;font-weight:bold;transform:translateX(-50%) scaleX(1.0000);transform-origin:center center;-webkit-text-stroke:0.15px currentColor;">598</div>
<div class="t" style="left:140.65px;top:258.29px;font-size:7.4px;line-height:7.4px;color:#000;font-weight:bold;transform:translateX(-50%) scaleX(1.0000);transform-origin:center center;-webkit-text-stroke:0.15px currentColor;">2339</div>
<div class="t" style="left:140.65px;top:272.46px;font-size:7.2px;line-height:7.2px;color:#fff;font-weight:bold;transform:translateX(-50%) scaleX(1.0000);transform-origin:center center;-webkit-text-stroke:0.15px currentColor;">26%</div>
<div class="t" style="left:140.65px;top:298.76px;font-size:6.6px;line-height:6.6px;color:#000;font-weight:normal;transform:translateX(-50%) scaleX(1.0000);transform-origin:center center;-webkit-text-stroke:0.3px #000;">3135</div>
<div class="t" style="left:140.65px;top:312.85px;font-size:6.5px;line-height:6.5px;color:#000;font-weight:normal;transform:translateX(-50%) scaleX(1.0000);transform-origin:center center;-webkit-text-stroke:0.3px #000;">18043</div>
<div class="t" style="left:140.65px;top:332.72px;font-size:6.3px;line-height:6.3px;color:#fff;font-weight:bold;transform:translateX(-50%) scaleX(1.0000);transform-origin:center center;-webkit-text-stroke:0.15px currentColor;">17%</div>
<div class="t" style="right:840.30px;top:96.59px;font-size:5.5px;line-height:5.5px;color:#1e1e1e;font-weight:normal;">25</div>
<div class="t" style="right:840.30px;top:104.74px;font-size:5.5px;line-height:5.5px;color:#1e1e1e;font-weight:normal;">307</div>
<div class="t" style="right:840.30px;top:112.89px;font-size:5.5px;line-height:5.5px;color:#1e1e1e;font-weight:normal;">96</div>
<div class="t" style="right:821.30px;top:105.05px;font-size:5.2px;line-height:5.2px;color:#111;font-weight:bold;-webkit-text-stroke:0.15px currentColor;">428</div>
<div class="t" style="right:840.30px;top:121.49px;font-size:5.5px;line-height:5.5px;color:#1e1e1e;font-weight:normal;">25</div>
<div class="t" style="right:840.30px;top:129.59px;font-size:5.5px;line-height:5.5px;color:#1e1e1e;font-weight:normal;">1286</div>
<div class="t" style="right:821.30px;top:125.95px;font-size:5.2px;line-height:5.2px;color:#111;font-weight:bold;-webkit-text-stroke:0.15px currentColor;">1311</div>
<div class="t" style="right:821.30px;top:145.95px;font-size:5.2px;line-height:5.2px;color:#111;font-weight:bold;-webkit-text-stroke:0.15px currentColor;">744</div>
<div class="t" style="left:182.75px;top:164.12px;font-size:7.6px;line-height:7.6px;color:#fff;font-weight:bold;transform:translateX(-50%) scaleX(1.0000);transform-origin:center center;-webkit-text-stroke:0.15px currentColor;">2483</div>
<div class="t" style="left:182.75px;top:176.16px;font-size:7.2px;line-height:7.2px;color:#000;font-weight:bold;transform:translateX(-50%) scaleX(1.0000);transform-origin:center center;-webkit-text-stroke:0.15px currentColor;">16152</div>
<div class="t" style="left:182.75px;top:189.97px;font-size:7.3px;line-height:7.3px;color:#fff;font-weight:bold;transform:translateX(-50%) scaleX(1.0000);transform-origin:center center;-webkit-text-stroke:0.15px currentColor;">15%</div>
<div class="t" style="right:840.30px;top:203.59px;font-size:5.5px;line-height:5.5px;color:#f4e6e6;font-weight:normal;">8</div>
<div class="t" style="right:840.30px;top:211.64px;font-size:5.5px;line-height:5.5px;color:#f4e6e6;font-weight:normal;">133</div>
<div class="t" style="right:840.30px;top:219.69px;font-size:5.5px;line-height:5.5px;color:#f4e6e6;font-weight:normal;">N/A</div>
<div class="t" style="right:821.30px;top:211.95px;font-size:5.2px;line-height:5.2px;color:#111;font-weight:bold;-webkit-text-stroke:0.15px currentColor;">141</div>
<div class="t" style="right:821.30px;top:228.65px;font-size:5.2px;line-height:5.2px;color:#111;font-weight:bold;-webkit-text-stroke:0.15px currentColor;">178</div>
<div class="t" style="right:821.30px;top:236.75px;font-size:5.2px;line-height:5.2px;color:#111;font-weight:bold;-webkit-text-stroke:0.15px currentColor;">280</div>
<div class="t" style="left:182.75px;top:245.98px;font-size:8.0px;line-height:8.0px;color:#fff;font-weight:bold;transform:translateX(-50%) scaleX(1.0000);transform-origin:center center;-webkit-text-stroke:0.15px currentColor;">599</div>
<div class="t" style="left:182.75px;top:258.29px;font-size:7.4px;line-height:7.4px;color:#000;font-weight:bold;transform:translateX(-50%) scaleX(1.0000);transform-origin:center center;-webkit-text-stroke:0.15px currentColor;">2535</div>
<div class="t" style="left:182.75px;top:272.46px;font-size:7.2px;line-height:7.2px;color:#fff;font-weight:bold;transform:translateX(-50%) scaleX(1.0000);transform-origin:center center;-webkit-text-stroke:0.15px currentColor;">24%</div>
<div class="t" style="left:182.75px;top:298.76px;font-size:6.6px;line-height:6.6px;color:#000;font-weight:normal;transform:translateX(-50%) scaleX(1.0000);transform-origin:center center;-webkit-text-stroke:0.3px #000;">3082</div>
<div class="t" style="left:182.75px;top:312.85px;font-size:6.5px;line-height:6.5px;color:#000;font-weight:normal;transform:translateX(-50%) scaleX(1.0000);transform-origin:center center;-webkit-text-stroke:0.3px #000;">18687</div>
<div class="t" style="left:182.75px;top:332.72px;font-size:6.3px;line-height:6.3px;color:#fff;font-weight:bold;transform:translateX(-50%) scaleX(1.0000);transform-origin:center center;-webkit-text-stroke:0.15px currentColor;">16%</div>
<div class="t" style="right:798.40px;top:96.59px;font-size:5.5px;line-height:5.5px;color:#1e1e1e;font-weight:normal;">24</div>
<div class="t" style="right:798.40px;top:104.74px;font-size:5.5px;line-height:5.5px;color:#1e1e1e;font-weight:normal;">329</div>
<div class="t" style="right:798.40px;top:112.89px;font-size:5.5px;line-height:5.5px;color:#1e1e1e;font-weight:normal;">122</div>
<div class="t" style="right:779.40px;top:105.05px;font-size:5.2px;line-height:5.2px;color:#111;font-weight:bold;-webkit-text-stroke:0.15px currentColor;">475</div>
<div class="t" style="right:798.40px;top:121.49px;font-size:5.5px;line-height:5.5px;color:#1e1e1e;font-weight:normal;">47</div>
<div class="t" style="right:798.40px;top:129.59px;font-size:5.5px;line-height:5.5px;color:#1e1e1e;font-weight:normal;">1535</div>
<div class="t" style="right:779.40px;top:125.95px;font-size:5.2px;line-height:5.2px;color:#111;font-weight:bold;-webkit-text-stroke:0.15px currentColor;">1582</div>
<div class="t" style="right:798.40px;top:137.59px;font-size:5.5px;line-height:5.5px;color:#1e1e1e;font-weight:normal;">358</div>
<div class="t" style="right:798.40px;top:145.69px;font-size:5.5px;line-height:5.5px;color:#1e1e1e;font-weight:normal;">443</div>
<div class="t" style="right:798.40px;top:153.79px;font-size:5.5px;line-height:5.5px;color:#1e1e1e;font-weight:normal;">13</div>
<div class="t" style="right:779.40px;top:145.95px;font-size:5.2px;line-height:5.2px;color:#111;font-weight:bold;-webkit-text-stroke:0.15px currentColor;">814</div>
<div class="t" style="left:224.85px;top:164.12px;font-size:7.6px;line-height:7.6px;color:#fff;font-weight:bold;transform:translateX(-50%) scaleX(1.0000);transform-origin:center center;-webkit-text-stroke:0.15px currentColor;">2871</div>
<div class="t" style="left:224.85px;top:176.16px;font-size:7.2px;line-height:7.2px;color:#000;font-weight:bold;transform:translateX(-50%) scaleX(1.0000);transform-origin:center center;-webkit-text-stroke:0.15px currentColor;">16122</div>
<div class="t" style="left:224.85px;top:189.97px;font-size:7.3px;line-height:7.3px;color:#fff;font-weight:bold;transform:translateX(-50%) scaleX(1.0000);transform-origin:center center;-webkit-text-stroke:0.15px currentColor;">18%</div>
<div class="t" style="right:798.40px;top:203.59px;font-size:5.5px;line-height:5.5px;color:#f4e6e6;font-weight:normal;">9</div>
<div class="t" style="right:798.40px;top:211.64px;font-size:5.5px;line-height:5.5px;color:#f4e6e6;font-weight:normal;">152</div>
<div class="t" style="right:798.40px;top:219.69px;font-size:5.5px;line-height:5.5px;color:#f4e6e6;font-weight:normal;">N/A</div>
<div class="t" style="right:779.40px;top:211.95px;font-size:5.2px;line-height:5.2px;color:#111;font-weight:bold;-webkit-text-stroke:0.15px currentColor;">161</div>
<div class="t" style="right:779.40px;top:228.65px;font-size:5.2px;line-height:5.2px;color:#111;font-weight:bold;-webkit-text-stroke:0.15px currentColor;">180</div>
<div class="t" style="right:779.40px;top:236.75px;font-size:5.2px;line-height:5.2px;color:#111;font-weight:bold;-webkit-text-stroke:0.15px currentColor;">256</div>
<div class="t" style="left:224.85px;top:245.98px;font-size:8.0px;line-height:8.0px;color:#fff;font-weight:bold;transform:translateX(-50%) scaleX(1.0000);transform-origin:center center;-webkit-text-stroke:0.15px currentColor;">597</div>
<div class="t" style="left:224.85px;top:258.29px;font-size:7.4px;line-height:7.4px;color:#000;font-weight:bold;transform:translateX(-50%) scaleX(1.0000);transform-origin:center center;-webkit-text-stroke:0.15px currentColor;">2559</div>
<div class="t" style="left:224.85px;top:272.46px;font-size:7.2px;line-height:7.2px;color:#fff;font-weight:bold;transform:translateX(-50%) scaleX(1.0000);transform-origin:center center;-webkit-text-stroke:0.15px currentColor;">23%</div>
<div class="t" style="left:224.85px;top:298.76px;font-size:6.6px;line-height:6.6px;color:#000;font-weight:normal;transform:translateX(-50%) scaleX(1.0000);transform-origin:center center;-webkit-text-stroke:0.3px #000;">3468</div>
<div class="t" style="left:224.85px;top:312.85px;font-size:6.5px;line-height:6.5px;color:#000;font-weight:normal;transform:translateX(-50%) scaleX(1.0000);transform-origin:center center;-webkit-text-stroke:0.3px #000;">18681</div>
<div class="t" style="left:224.85px;top:332.72px;font-size:6.3px;line-height:6.3px;color:#fff;font-weight:bold;transform:translateX(-50%) scaleX(1.0000);transform-origin:center center;-webkit-text-stroke:0.15px currentColor;">19%</div>
<div class="t" style="right:756.50px;top:96.59px;font-size:5.5px;line-height:5.5px;color:#1e1e1e;font-weight:normal;">30</div>
<div class="t" style="right:756.50px;top:104.74px;font-size:5.5px;line-height:5.5px;color:#1e1e1e;font-weight:normal;">478</div>
<div class="t" style="right:756.50px;top:112.89px;font-size:5.5px;line-height:5.5px;color:#1e1e1e;font-weight:normal;">133</div>
<div class="t" style="right:737.70px;top:105.05px;font-size:5.2px;line-height:5.2px;color:#111;font-weight:bold;-webkit-text-stroke:0.15px currentColor;">641</div>
<div class="t" style="right:756.50px;top:121.49px;font-size:5.5px;line-height:5.5px;color:#1e1e1e;font-weight:normal;">84</div>
<div class="t" style="right:756.50px;top:129.59px;font-size:5.5px;line-height:5.5px;color:#1e1e1e;font-weight:normal;">1764</div>
<div class="t" style="right:737.70px;top:125.95px;font-size:5.2px;line-height:5.2px;color:#111;font-weight:bold;-webkit-text-stroke:0.15px currentColor;">1848</div>
<div class="t" style="right:756.50px;top:137.59px;font-size:5.5px;line-height:5.5px;color:#1e1e1e;font-weight:normal;">506</div>
<div class="t" style="right:756.50px;top:145.69px;font-size:5.5px;line-height:5.5px;color:#1e1e1e;font-weight:normal;">80</div>
<div class="t" style="right:756.50px;top:153.79px;font-size:5.5px;line-height:5.5px;color:#1e1e1e;font-weight:normal;">9</div>
<div class="t" style="right:737.70px;top:145.95px;font-size:5.2px;line-height:5.2px;color:#111;font-weight:bold;-webkit-text-stroke:0.15px currentColor;">595</div>
<div class="t" style="left:266.65px;top:164.12px;font-size:7.6px;line-height:7.6px;color:#fff;font-weight:bold;transform:translateX(-50%) scaleX(1.0000);transform-origin:center center;-webkit-text-stroke:0.15px currentColor;">3084</div>
<div class="t" style="left:266.65px;top:176.16px;font-size:7.2px;line-height:7.2px;color:#000;font-weight:bold;transform:translateX(-50%) scaleX(1.0000);transform-origin:center center;-webkit-text-stroke:0.15px currentColor;">14853</div>
<div class="t" style="left:266.65px;top:189.97px;font-size:7.3px;line-height:7.3px;color:#fff;font-weight:bold;transform:translateX(-50%) scaleX(1.0000);transform-origin:center center;-webkit-text-stroke:0.15px currentColor;">21%</div>
<div class="t" style="right:756.50px;top:203.59px;font-size:5.5px;line-height:5.5px;color:#f4e6e6;font-weight:normal;">11</div>
<div class="t" style="right:756.50px;top:211.64px;font-size:5.5px;line-height:5.5px;color:#f4e6e6;font-weight:normal;">188</div>
<div class="t" style="right:756.50px;top:219.69px;font-size:5.5px;line-height:5.5px;color:#f4e6e6;font-weight:normal;">N/A</div>
<div class="t" style="right:737.70px;top:211.95px;font-size:5.2px;line-height:5.2px;color:#111;font-weight:bold;-webkit-text-stroke:0.15px currentColor;">199</div>
<div class="t" style="right:737.70px;top:228.65px;font-size:5.2px;line-height:5.2px;color:#111;font-weight:bold;-webkit-text-stroke:0.15px currentColor;">203</div>
<div class="t" style="right:737.70px;top:236.75px;font-size:5.2px;line-height:5.2px;color:#111;font-weight:bold;-webkit-text-stroke:0.15px currentColor;">224</div>
<div class="t" style="left:266.65px;top:245.98px;font-size:8.0px;line-height:8.0px;color:#fff;font-weight:bold;transform:translateX(-50%) scaleX(1.0000);transform-origin:center center;-webkit-text-stroke:0.15px currentColor;">626</div>
<div class="t" style="left:266.65px;top:258.29px;font-size:7.4px;line-height:7.4px;color:#000;font-weight:bold;transform:translateX(-50%) scaleX(1.0000);transform-origin:center center;-webkit-text-stroke:0.15px currentColor;">2196</div>
<div class="t" style="left:266.65px;top:272.46px;font-size:7.2px;line-height:7.2px;color:#fff;font-weight:bold;transform:translateX(-50%) scaleX(1.0000);transform-origin:center center;-webkit-text-stroke:0.15px currentColor;">29%</div>
<div class="t" style="left:266.65px;top:298.76px;font-size:6.6px;line-height:6.6px;color:#000;font-weight:normal;transform:translateX(-50%) scaleX(1.0000);transform-origin:center center;-webkit-text-stroke:0.3px #000;">3710</div>
<div class="t" style="left:266.65px;top:312.85px;font-size:6.5px;line-height:6.5px;color:#000;font-weight:normal;transform:translateX(-50%) scaleX(1.0000);transform-origin:center center;-webkit-text-stroke:0.3px #000;">17049</div>
<div class="t" style="left:266.65px;top:332.72px;font-size:6.3px;line-height:6.3px;color:#fff;font-weight:bold;transform:translateX(-50%) scaleX(1.0000);transform-origin:center center;-webkit-text-stroke:0.15px currentColor;">22%</div>
<div class="t" style="right:715.10px;top:96.59px;font-size:5.5px;line-height:5.5px;color:#1e1e1e;font-weight:normal;">28</div>
<div class="t" style="right:715.10px;top:104.74px;font-size:5.5px;line-height:5.5px;color:#1e1e1e;font-weight:normal;">564</div>
<div class="t" style="right:715.10px;top:112.89px;font-size:5.5px;line-height:5.5px;color:#1e1e1e;font-weight:normal;">158</div>
<div class="t" style="right:696.00px;top:105.05px;font-size:5.2px;line-height:5.2px;color:#111;font-weight:bold;-webkit-text-stroke:0.15px currentColor;">750</div>
<div class="t" style="right:715.10px;top:121.49px;font-size:5.5px;line-height:5.5px;color:#1e1e1e;font-weight:normal;">75</div>
<div class="t" style="right:715.10px;top:129.85px;font-size:5.2px;line-height:5.2px;color:#111;font-weight:bold;-webkit-text-stroke:0.15px currentColor;">1982</div>
<div class="t" style="right:696.00px;top:125.95px;font-size:5.2px;line-height:5.2px;color:#111;font-weight:bold;-webkit-text-stroke:0.15px currentColor;">2057</div>
<div class="t" style="right:715.10px;top:137.59px;font-size:5.5px;line-height:5.5px;color:#1e1e1e;font-weight:normal;">615</div>
<div class="t" style="right:715.10px;top:145.69px;font-size:5.5px;line-height:5.5px;color:#1e1e1e;font-weight:normal;">24</div>
<div class="t" style="right:715.10px;top:153.79px;font-size:5.5px;line-height:5.5px;color:#1e1e1e;font-weight:normal;">8</div>
<div class="t" style="right:696.00px;top:145.95px;font-size:5.2px;line-height:5.2px;color:#111;font-weight:bold;-webkit-text-stroke:0.15px currentColor;">647</div>
<div class="t" style="left:308.35px;top:164.12px;font-size:7.6px;line-height:7.6px;color:#fff;font-weight:bold;transform:translateX(-50%) scaleX(1.0000);transform-origin:center center;-webkit-text-stroke:0.15px currentColor;">3454</div>
<div class="t" style="left:308.35px;top:176.16px;font-size:7.2px;line-height:7.2px;color:#000;font-weight:bold;transform:translateX(-50%) scaleX(1.0000);transform-origin:center center;-webkit-text-stroke:0.15px currentColor;">14538</div>
<div class="t" style="left:308.35px;top:189.97px;font-size:7.3px;line-height:7.3px;color:#fff;font-weight:bold;transform:translateX(-50%) scaleX(1.0000);transform-origin:center center;-webkit-text-stroke:0.15px currentColor;">24%</div>
<div class="t" style="right:715.10px;top:203.59px;font-size:5.5px;line-height:5.5px;color:#f4e6e6;font-weight:normal;">15</div>
<div class="t" style="right:715.10px;top:211.64px;font-size:5.5px;line-height:5.5px;color:#f4e6e6;font-weight:normal;">226</div>
<div class="t" style="right:715.10px;top:219.69px;font-size:5.5px;line-height:5.5px;color:#f4e6e6;font-weight:normal;">20</div>
<div class="t" style="right:696.00px;top:211.95px;font-size:5.2px;line-height:5.2px;color:#111;font-weight:bold;-webkit-text-stroke:0.15px currentColor;">261</div>
<div class="t" style="right:696.00px;top:228.65px;font-size:5.2px;line-height:5.2px;color:#111;font-weight:bold;-webkit-text-stroke:0.15px currentColor;">212</div>
<div class="t" style="right:696.00px;top:236.75px;font-size:5.2px;line-height:5.2px;color:#111;font-weight:bold;-webkit-text-stroke:0.15px currentColor;">270</div>
<div class="t" style="left:308.35px;top:245.98px;font-size:8.0px;line-height:8.0px;color:#fff;font-weight:bold;transform:translateX(-50%) scaleX(1.0000);transform-origin:center center;-webkit-text-stroke:0.15px currentColor;">743</div>
<div class="t" style="left:308.35px;top:258.29px;font-size:7.4px;line-height:7.4px;color:#000;font-weight:bold;transform:translateX(-50%) scaleX(1.0000);transform-origin:center center;-webkit-text-stroke:0.15px currentColor;">2075</div>
<div class="t" style="left:308.35px;top:272.46px;font-size:7.2px;line-height:7.2px;color:#fff;font-weight:bold;transform:translateX(-50%) scaleX(1.0000);transform-origin:center center;-webkit-text-stroke:0.15px currentColor;">36%</div>
<div class="t" style="left:308.35px;top:298.76px;font-size:6.6px;line-height:6.6px;color:#000;font-weight:normal;transform:translateX(-50%) scaleX(1.0000);transform-origin:center center;-webkit-text-stroke:0.3px #000;">4197</div>
<div class="t" style="left:308.35px;top:312.85px;font-size:6.5px;line-height:6.5px;color:#000;font-weight:normal;transform:translateX(-50%) scaleX(1.0000);transform-origin:center center;-webkit-text-stroke:0.3px #000;">16613</div>
<div class="t" style="left:308.35px;top:332.72px;font-size:6.3px;line-height:6.3px;color:#fff;font-weight:bold;transform:translateX(-50%) scaleX(1.0000);transform-origin:center center;-webkit-text-stroke:0.15px currentColor;">25%</div>
<div class="t" style="right:673.40px;top:96.59px;font-size:5.5px;line-height:5.5px;color:#1e1e1e;font-weight:normal;">26</div>
<div class="t" style="right:673.40px;top:104.74px;font-size:5.5px;line-height:5.5px;color:#1e1e1e;font-weight:normal;">636</div>
<div class="t" style="right:673.40px;top:112.89px;font-size:5.5px;line-height:5.5px;color:#1e1e1e;font-weight:normal;">180</div>
<div class="t" style="right:654.10px;top:105.05px;font-size:5.2px;line-height:5.2px;color:#111;font-weight:bold;-webkit-text-stroke:0.15px currentColor;">842</div>
<div class="t" style="right:673.40px;top:121.49px;font-size:5.5px;line-height:5.5px;color:#1e1e1e;font-weight:normal;">59</div>
<div class="t" style="right:673.40px;top:129.59px;font-size:5.5px;line-height:5.5px;color:#1e1e1e;font-weight:normal;">2170</div>
<div class="t" style="right:654.10px;top:125.95px;font-size:5.2px;line-height:5.2px;color:#111;font-weight:bold;-webkit-text-stroke:0.15px currentColor;">2229</div>
<div class="t" style="right:673.40px;top:137.59px;font-size:5.5px;line-height:5.5px;color:#1e1e1e;font-weight:normal;">661</div>
<div class="t" style="right:673.40px;top:145.69px;font-size:5.5px;line-height:5.5px;color:#1e1e1e;font-weight:normal;">28</div>
<div class="t" style="right:673.40px;top:153.79px;font-size:5.5px;line-height:5.5px;color:#1e1e1e;font-weight:normal;">12</div>
<div class="t" style="right:654.10px;top:145.95px;font-size:5.2px;line-height:5.2px;color:#111;font-weight:bold;-webkit-text-stroke:0.15px currentColor;">701</div>
<div class="t" style="left:350.15px;top:164.12px;font-size:7.6px;line-height:7.6px;color:#fff;font-weight:bold;transform:translateX(-50%) scaleX(1.0000);transform-origin:center center;-webkit-text-stroke:0.15px currentColor;">3772</div>
<div class="t" style="left:350.15px;top:176.16px;font-size:7.2px;line-height:7.2px;color:#000;font-weight:bold;transform:translateX(-50%) scaleX(1.0000);transform-origin:center center;-webkit-text-stroke:0.15px currentColor;">14782</div>
<div class="t" style="left:350.15px;top:189.97px;font-size:7.3px;line-height:7.3px;color:#fff;font-weight:bold;transform:translateX(-50%) scaleX(1.0000);transform-origin:center center;-webkit-text-stroke:0.15px currentColor;">26%</div>
<div class="t" style="right:673.40px;top:203.59px;font-size:5.5px;line-height:5.5px;color:#f4e6e6;font-weight:normal;">9</div>
<div class="t" style="right:673.40px;top:211.64px;font-size:5.5px;line-height:5.5px;color:#f4e6e6;font-weight:normal;">217</div>
<div class="t" style="right:673.40px;top:219.69px;font-size:5.5px;line-height:5.5px;color:#f4e6e6;font-weight:normal;">47</div>
<div class="t" style="right:654.10px;top:211.95px;font-size:5.2px;line-height:5.2px;color:#111;font-weight:bold;-webkit-text-stroke:0.15px currentColor;">273</div>
<div class="t" style="right:654.10px;top:228.65px;font-size:5.2px;line-height:5.2px;color:#111;font-weight:bold;-webkit-text-stroke:0.15px currentColor;">257</div>
<div class="t" style="right:654.10px;top:236.75px;font-size:5.2px;line-height:5.2px;color:#111;font-weight:bold;-webkit-text-stroke:0.15px currentColor;">336</div>
<div class="t" style="left:350.15px;top:245.98px;font-size:8.0px;line-height:8.0px;color:#fff;font-weight:bold;transform:translateX(-50%) scaleX(1.0000);transform-origin:center center;-webkit-text-stroke:0.15px currentColor;">866</div>
<div class="t" style="left:350.15px;top:258.29px;font-size:7.4px;line-height:7.4px;color:#000;font-weight:bold;transform:translateX(-50%) scaleX(1.0000);transform-origin:center center;-webkit-text-stroke:0.15px currentColor;">2242</div>
<div class="t" style="left:350.15px;top:272.46px;font-size:7.2px;line-height:7.2px;color:#fff;font-weight:bold;transform:translateX(-50%) scaleX(1.0000);transform-origin:center center;-webkit-text-stroke:0.15px currentColor;">39%</div>
<div class="t" style="left:350.15px;top:298.76px;font-size:6.6px;line-height:6.6px;color:#000;font-weight:normal;transform:translateX(-50%) scaleX(1.0000);transform-origin:center center;-webkit-text-stroke:0.3px #000;">4638</div>
<div class="t" style="left:350.15px;top:312.85px;font-size:6.5px;line-height:6.5px;color:#000;font-weight:normal;transform:translateX(-50%) scaleX(1.0000);transform-origin:center center;-webkit-text-stroke:0.3px #000;">17024</div>
<div class="t" style="left:350.15px;top:332.72px;font-size:6.3px;line-height:6.3px;color:#fff;font-weight:bold;transform:translateX(-50%) scaleX(1.0000);transform-origin:center center;-webkit-text-stroke:0.15px currentColor;">27%</div>
<div class="t" style="right:631.40px;top:96.59px;font-size:5.5px;line-height:5.5px;color:#1e1e1e;font-weight:normal;">24</div>
<div class="t" style="right:631.40px;top:104.74px;font-size:5.5px;line-height:5.5px;color:#1e1e1e;font-weight:normal;">705</div>
<div class="t" style="right:631.40px;top:112.89px;font-size:5.5px;line-height:5.5px;color:#1e1e1e;font-weight:normal;">241</div>
<div class="t" style="right:612.20px;top:105.05px;font-size:5.2px;line-height:5.2px;color:#111;font-weight:bold;-webkit-text-stroke:0.15px currentColor;">970</div>
<div class="t" style="right:631.40px;top:121.49px;font-size:5.5px;line-height:5.5px;color:#1e1e1e;font-weight:normal;">80</div>
<div class="t" style="right:631.40px;top:129.59px;font-size:5.5px;line-height:5.5px;color:#1e1e1e;font-weight:normal;">2336</div>
<div class="t" style="right:612.20px;top:125.95px;font-size:5.2px;line-height:5.2px;color:#111;font-weight:bold;-webkit-text-stroke:0.15px currentColor;">2416</div>
<div class="t" style="right:631.40px;top:137.59px;font-size:5.5px;line-height:5.5px;color:#1e1e1e;font-weight:normal;">753</div>
<div class="t" style="right:631.40px;top:145.69px;font-size:5.5px;line-height:5.5px;color:#1e1e1e;font-weight:normal;">39</div>
<div class="t" style="right:631.40px;top:153.79px;font-size:5.5px;line-height:5.5px;color:#1e1e1e;font-weight:normal;">24</div>
<div class="t" style="right:612.20px;top:145.95px;font-size:5.2px;line-height:5.2px;color:#111;font-weight:bold;-webkit-text-stroke:0.15px currentColor;">816</div>
<div class="t" style="left:392.05px;top:164.12px;font-size:7.6px;line-height:7.6px;color:#fff;font-weight:bold;transform:translateX(-50%) scaleX(1.0000);transform-origin:center center;-webkit-text-stroke:0.15px currentColor;">4202</div>
<div class="t" style="left:392.05px;top:176.16px;font-size:7.2px;line-height:7.2px;color:#000;font-weight:bold;transform:translateX(-50%) scaleX(1.0000);transform-origin:center center;-webkit-text-stroke:0.15px currentColor;">14728</div>
<div class="t" style="left:392.05px;top:189.97px;font-size:7.3px;line-height:7.3px;color:#fff;font-weight:bold;transform:translateX(-50%) scaleX(1.0000);transform-origin:center center;-webkit-text-stroke:0.15px currentColor;">29%</div>
<div class="t" style="right:631.40px;top:203.59px;font-size:5.5px;line-height:5.5px;color:#f4e6e6;font-weight:normal;">8</div>
<div class="t" style="right:631.40px;top:211.64px;font-size:5.5px;line-height:5.5px;color:#f4e6e6;font-weight:normal;">212</div>
<div class="t" style="right:631.40px;top:219.69px;font-size:5.5px;line-height:5.5px;color:#f4e6e6;font-weight:normal;">55</div>
<div class="t" style="right:612.20px;top:211.95px;font-size:5.2px;line-height:5.2px;color:#111;font-weight:bold;-webkit-text-stroke:0.15px currentColor;">275</div>
<div class="t" style="right:612.20px;top:228.65px;font-size:5.2px;line-height:5.2px;color:#111;font-weight:bold;-webkit-text-stroke:0.15px currentColor;">298</div>
<div class="t" style="right:612.20px;top:236.75px;font-size:5.2px;line-height:5.2px;color:#111;font-weight:bold;-webkit-text-stroke:0.15px currentColor;">336</div>
<div class="t" style="left:392.05px;top:245.98px;font-size:8.0px;line-height:8.0px;color:#fff;font-weight:bold;transform:translateX(-50%) scaleX(1.0000);transform-origin:center center;-webkit-text-stroke:0.15px currentColor;">909</div>
<div class="t" style="left:392.05px;top:258.29px;font-size:7.4px;line-height:7.4px;color:#000;font-weight:bold;transform:translateX(-50%) scaleX(1.0000);transform-origin:center center;-webkit-text-stroke:0.15px currentColor;">2182</div>
<div class="t" style="left:392.05px;top:272.46px;font-size:7.2px;line-height:7.2px;color:#fff;font-weight:bold;transform:translateX(-50%) scaleX(1.0000);transform-origin:center center;-webkit-text-stroke:0.15px currentColor;">42%</div>
<div class="t" style="left:392.05px;top:298.76px;font-size:6.6px;line-height:6.6px;color:#000;font-weight:normal;transform:translateX(-50%) scaleX(1.0000);transform-origin:center center;-webkit-text-stroke:0.3px #000;">5111</div>
<div class="t" style="left:392.05px;top:312.85px;font-size:6.5px;line-height:6.5px;color:#000;font-weight:normal;transform:translateX(-50%) scaleX(1.0000);transform-origin:center center;-webkit-text-stroke:0.3px #000;">16910</div>
<div class="t" style="left:392.05px;top:332.72px;font-size:6.3px;line-height:6.3px;color:#fff;font-weight:bold;transform:translateX(-50%) scaleX(1.0000);transform-origin:center center;-webkit-text-stroke:0.15px currentColor;">30%</div>
<div class="t" style="right:589.40px;top:96.59px;font-size:5.5px;line-height:5.5px;color:#1e1e1e;font-weight:normal;">25</div>
<div class="t" style="right:589.40px;top:104.74px;font-size:5.5px;line-height:5.5px;color:#1e1e1e;font-weight:normal;">711</div>
<div class="t" style="right:589.40px;top:112.89px;font-size:5.5px;line-height:5.5px;color:#1e1e1e;font-weight:normal;">280</div>
<div class="t" style="right:569.60px;top:105.05px;font-size:5.2px;line-height:5.2px;color:#111;font-weight:bold;-webkit-text-stroke:0.15px currentColor;">1016</div>
<div class="t" style="right:589.40px;top:121.49px;font-size:5.5px;line-height:5.5px;color:#1e1e1e;font-weight:normal;">89</div>
<div class="t" style="right:589.40px;top:129.59px;font-size:5.5px;line-height:5.5px;color:#1e1e1e;font-weight:normal;">2369</div>
<div class="t" style="right:569.60px;top:125.95px;font-size:5.2px;line-height:5.2px;color:#111;font-weight:bold;-webkit-text-stroke:0.15px currentColor;">2458</div>
<div class="t" style="right:589.40px;top:137.59px;font-size:5.5px;line-height:5.5px;color:#1e1e1e;font-weight:normal;">1002</div>
<div class="t" style="right:589.40px;top:145.69px;font-size:5.5px;line-height:5.5px;color:#1e1e1e;font-weight:normal;">64</div>
<div class="t" style="right:589.40px;top:153.79px;font-size:5.5px;line-height:5.5px;color:#1e1e1e;font-weight:normal;">90</div>
<div class="t" style="right:569.60px;top:145.95px;font-size:5.2px;line-height:5.2px;color:#111;font-weight:bold;-webkit-text-stroke:0.15px currentColor;">1156</div>
<div class="t" style="left:434.30px;top:164.12px;font-size:7.6px;line-height:7.6px;color:#fff;font-weight:bold;transform:translateX(-50%) scaleX(1.0000);transform-origin:center center;-webkit-text-stroke:0.15px currentColor;">4630</div>
<div class="t" style="left:434.30px;top:176.16px;font-size:7.2px;line-height:7.2px;color:#000;font-weight:bold;transform:translateX(-50%) scaleX(1.0000);transform-origin:center center;-webkit-text-stroke:0.15px currentColor;">14886</div>
<div class="t" style="left:434.30px;top:189.97px;font-size:7.3px;line-height:7.3px;color:#fff;font-weight:bold;transform:translateX(-50%) scaleX(1.0000);transform-origin:center center;-webkit-text-stroke:0.15px currentColor;">31%</div>
<div class="t" style="right:589.40px;top:203.59px;font-size:5.5px;line-height:5.5px;color:#f4e6e6;font-weight:normal;">7</div>
<div class="t" style="right:589.40px;top:211.64px;font-size:5.5px;line-height:5.5px;color:#f4e6e6;font-weight:normal;">230</div>
<div class="t" style="right:589.40px;top:219.69px;font-size:5.5px;line-height:5.5px;color:#f4e6e6;font-weight:normal;">89</div>
<div class="t" style="right:569.60px;top:211.95px;font-size:5.2px;line-height:5.2px;color:#111;font-weight:bold;-webkit-text-stroke:0.15px currentColor;">326</div>
<div class="t" style="right:569.60px;top:228.65px;font-size:5.2px;line-height:5.2px;color:#111;font-weight:bold;-webkit-text-stroke:0.15px currentColor;">379</div>
<div class="t" style="right:569.60px;top:236.75px;font-size:5.2px;line-height:5.2px;color:#111;font-weight:bold;-webkit-text-stroke:0.15px currentColor;">341</div>
<div class="t" style="left:434.30px;top:245.98px;font-size:8.0px;line-height:8.0px;color:#fff;font-weight:bold;transform:translateX(-50%) scaleX(1.0000);transform-origin:center center;-webkit-text-stroke:0.15px currentColor;">1046</div>
<div class="t" style="left:434.30px;top:258.29px;font-size:7.4px;line-height:7.4px;color:#000;font-weight:bold;transform:translateX(-50%) scaleX(1.0000);transform-origin:center center;-webkit-text-stroke:0.15px currentColor;">2184</div>
<div class="t" style="left:434.30px;top:272.46px;font-size:7.2px;line-height:7.2px;color:#fff;font-weight:bold;transform:translateX(-50%) scaleX(1.0000);transform-origin:center center;-webkit-text-stroke:0.15px currentColor;">48%</div>
<div class="t" style="left:434.30px;top:298.76px;font-size:6.6px;line-height:6.6px;color:#000;font-weight:normal;transform:translateX(-50%) scaleX(1.0000);transform-origin:center center;-webkit-text-stroke:0.3px #000;">5676</div>
<div class="t" style="left:434.30px;top:312.85px;font-size:6.5px;line-height:6.5px;color:#000;font-weight:normal;transform:translateX(-50%) scaleX(1.0000);transform-origin:center center;-webkit-text-stroke:0.3px #000;">17070</div>
<div class="t" style="left:434.30px;top:332.72px;font-size:6.3px;line-height:6.3px;color:#fff;font-weight:bold;transform:translateX(-50%) scaleX(1.0000);transform-origin:center center;-webkit-text-stroke:0.15px currentColor;">33%</div>
<div class="t" style="right:550.00px;top:96.59px;font-size:5.5px;line-height:5.5px;color:#1e1e1e;font-weight:normal;">25</div>
<div class="t" style="right:550.00px;top:104.74px;font-size:5.5px;line-height:5.5px;color:#1e1e1e;font-weight:normal;">705</div>
<div class="t" style="right:550.00px;top:112.89px;font-size:5.5px;line-height:5.5px;color:#1e1e1e;font-weight:normal;">164</div>
<div class="t" style="right:530.70px;top:105.05px;font-size:5.2px;line-height:5.2px;color:#111;font-weight:bold;-webkit-text-stroke:0.15px currentColor;">894</div>
<div class="t" style="right:550.00px;top:121.49px;font-size:5.5px;line-height:5.5px;color:#1e1e1e;font-weight:normal;">87</div>
<div class="t" style="right:550.00px;top:129.59px;font-size:5.5px;line-height:5.5px;color:#1e1e1e;font-weight:normal;">2056</div>
<div class="t" style="right:530.70px;top:125.95px;font-size:5.2px;line-height:5.2px;color:#111;font-weight:bold;-webkit-text-stroke:0.15px currentColor;">2143</div>
<div class="t" style="right:550.00px;top:137.59px;font-size:5.5px;line-height:5.5px;color:#1e1e1e;font-weight:normal;">1237</div>
<div class="t" style="right:550.00px;top:145.69px;font-size:5.5px;line-height:5.5px;color:#1e1e1e;font-weight:normal;">70</div>
<div class="t" style="right:550.00px;top:153.79px;font-size:5.5px;line-height:5.5px;color:#1e1e1e;font-weight:normal;">180</div>
<div class="t" style="right:530.70px;top:145.95px;font-size:5.2px;line-height:5.2px;color:#111;font-weight:bold;-webkit-text-stroke:0.15px currentColor;">1487</div>
<div class="t" style="left:475.05px;top:164.12px;font-size:7.6px;line-height:7.6px;color:#fff;font-weight:bold;transform:translateX(-50%) scaleX(1.0000);transform-origin:center center;-webkit-text-stroke:0.15px currentColor;">4524</div>
<div class="t" style="left:475.05px;top:176.16px;font-size:7.2px;line-height:7.2px;color:#000;font-weight:bold;transform:translateX(-50%) scaleX(1.0000);transform-origin:center center;-webkit-text-stroke:0.15px currentColor;">12713</div>
<div class="t" style="left:475.05px;top:189.97px;font-size:7.3px;line-height:7.3px;color:#fff;font-weight:bold;transform:translateX(-50%) scaleX(1.0000);transform-origin:center center;-webkit-text-stroke:0.15px currentColor;">36%</div>
<div class="t" style="right:550.00px;top:203.59px;font-size:5.5px;line-height:5.5px;color:#f4e6e6;font-weight:normal;">5</div>
<div class="t" style="right:550.00px;top:211.64px;font-size:5.5px;line-height:5.5px;color:#f4e6e6;font-weight:normal;">199</div>
<div class="t" style="right:550.00px;top:219.69px;font-size:5.5px;line-height:5.5px;color:#f4e6e6;font-weight:normal;">54</div>
<div class="t" style="right:530.70px;top:211.95px;font-size:5.2px;line-height:5.2px;color:#111;font-weight:bold;-webkit-text-stroke:0.15px currentColor;">258</div>
<div class="t" style="right:530.70px;top:228.65px;font-size:5.2px;line-height:5.2px;color:#111;font-weight:bold;-webkit-text-stroke:0.15px currentColor;">295</div>
<div class="t" style="right:530.70px;top:236.75px;font-size:5.2px;line-height:5.2px;color:#111;font-weight:bold;-webkit-text-stroke:0.15px currentColor;">339</div>
<div class="t" style="left:475.05px;top:245.98px;font-size:8.0px;line-height:8.0px;color:#fff;font-weight:bold;transform:translateX(-50%) scaleX(1.0000);transform-origin:center center;-webkit-text-stroke:0.15px currentColor;">892</div>
<div class="t" style="left:475.05px;top:258.29px;font-size:7.4px;line-height:7.4px;color:#000;font-weight:bold;transform:translateX(-50%) scaleX(1.0000);transform-origin:center center;-webkit-text-stroke:0.15px currentColor;">1499</div>
<div class="t" style="left:475.05px;top:272.46px;font-size:7.2px;line-height:7.2px;color:#fff;font-weight:bold;transform:translateX(-50%) scaleX(1.0000);transform-origin:center center;-webkit-text-stroke:0.15px currentColor;">60%</div>
<div class="t" style="left:475.05px;top:298.76px;font-size:6.6px;line-height:6.6px;color:#000;font-weight:normal;transform:translateX(-50%) scaleX(1.0000);transform-origin:center center;-webkit-text-stroke:0.3px #000;">5416</div>
<div class="t" style="left:475.05px;top:312.85px;font-size:6.5px;line-height:6.5px;color:#000;font-weight:normal;transform:translateX(-50%) scaleX(1.0000);transform-origin:center center;-webkit-text-stroke:0.3px #000;">14212</div>
<div class="t" style="left:475.05px;top:332.72px;font-size:6.3px;line-height:6.3px;color:#fff;font-weight:bold;transform:translateX(-50%) scaleX(1.0000);transform-origin:center center;-webkit-text-stroke:0.15px currentColor;">38%</div>
<div class="t" style="right:510.90px;top:96.59px;font-size:5.5px;line-height:5.5px;color:#1e1e1e;font-weight:normal;">28</div>
<div class="t" style="right:510.90px;top:104.74px;font-size:5.5px;line-height:5.5px;color:#1e1e1e;font-weight:normal;">745</div>
<div class="t" style="right:510.90px;top:112.89px;font-size:5.5px;line-height:5.5px;color:#1e1e1e;font-weight:normal;">233</div>
<div class="t" style="right:487.50px;top:105.05px;font-size:5.2px;line-height:5.2px;color:#111;font-weight:bold;-webkit-text-stroke:0.15px currentColor;">1006</div>
<div class="t" style="right:510.90px;top:121.49px;font-size:5.5px;line-height:5.5px;color:#1e1e1e;font-weight:normal;">92</div>
<div class="t" style="right:510.90px;top:129.59px;font-size:5.5px;line-height:5.5px;color:#1e1e1e;font-weight:normal;">2356</div>
<div class="t" style="right:487.50px;top:125.95px;font-size:5.2px;line-height:5.2px;color:#111;font-weight:bold;-webkit-text-stroke:0.15px currentColor;">2448</div>
<div class="t" style="right:510.90px;top:137.59px;font-size:5.5px;line-height:5.5px;color:#1e1e1e;font-weight:normal;">1070</div>
<div class="t" style="right:510.90px;top:145.69px;font-size:5.5px;line-height:5.5px;color:#1e1e1e;font-weight:normal;">53</div>
<div class="t" style="right:510.90px;top:153.79px;font-size:5.5px;line-height:5.5px;color:#1e1e1e;font-weight:normal;">403</div>
<div class="t" style="right:487.50px;top:145.95px;font-size:5.2px;line-height:5.2px;color:#111;font-weight:bold;-webkit-text-stroke:0.15px currentColor;">1526</div>
<div class="t" style="left:516.10px;top:164.12px;font-size:7.6px;line-height:7.6px;color:#fff;font-weight:bold;transform:translateX(-50%) scaleX(1.0000);transform-origin:center center;-webkit-text-stroke:0.15px currentColor;">4980</div>
<div class="t" style="left:516.10px;top:176.16px;font-size:7.2px;line-height:7.2px;color:#000;font-weight:bold;transform:translateX(-50%) scaleX(1.0000);transform-origin:center center;-webkit-text-stroke:0.15px currentColor;">13252</div>
<div class="t" style="left:516.10px;top:189.97px;font-size:7.3px;line-height:7.3px;color:#fff;font-weight:bold;transform:translateX(-50%) scaleX(1.0000);transform-origin:center center;-webkit-text-stroke:0.15px currentColor;">38%</div>
<div class="t" style="right:510.90px;top:203.59px;font-size:5.5px;line-height:5.5px;color:#f4e6e6;font-weight:normal;">6</div>
<div class="t" style="right:510.90px;top:211.64px;font-size:5.5px;line-height:5.5px;color:#f4e6e6;font-weight:normal;">211</div>
<div class="t" style="right:510.90px;top:219.69px;font-size:5.5px;line-height:5.5px;color:#f4e6e6;font-weight:normal;">82</div>
<div class="t" style="right:487.50px;top:211.95px;font-size:5.2px;line-height:5.2px;color:#111;font-weight:bold;-webkit-text-stroke:0.15px currentColor;">299</div>
<div class="t" style="right:487.50px;top:228.65px;font-size:5.2px;line-height:5.2px;color:#111;font-weight:bold;-webkit-text-stroke:0.15px currentColor;">301</div>
<div class="t" style="right:487.50px;top:236.75px;font-size:5.2px;line-height:5.2px;color:#111;font-weight:bold;-webkit-text-stroke:0.15px currentColor;">295</div>
<div class="t" style="left:516.10px;top:245.98px;font-size:8.0px;line-height:8.0px;color:#fff;font-weight:bold;transform:translateX(-50%) scaleX(1.0000);transform-origin:center center;-webkit-text-stroke:0.15px currentColor;">895</div>
<div class="t" style="left:516.10px;top:258.29px;font-size:7.4px;line-height:7.4px;color:#000;font-weight:bold;transform:translateX(-50%) scaleX(1.0000);transform-origin:center center;-webkit-text-stroke:0.15px currentColor;">1325</div>
<div class="t" style="left:516.10px;top:272.46px;font-size:7.2px;line-height:7.2px;color:#fff;font-weight:bold;transform:translateX(-50%) scaleX(1.0000);transform-origin:center center;-webkit-text-stroke:0.15px currentColor;">68%</div>
<div class="t" style="left:516.10px;top:298.76px;font-size:6.6px;line-height:6.6px;color:#000;font-weight:normal;transform:translateX(-50%) scaleX(1.0000);transform-origin:center center;-webkit-text-stroke:0.3px #000;">5875</div>
<div class="t" style="left:516.10px;top:312.85px;font-size:6.5px;line-height:6.5px;color:#000;font-weight:normal;transform:translateX(-50%) scaleX(1.0000);transform-origin:center center;-webkit-text-stroke:0.3px #000;">14577</div>
<div class="t" style="left:516.10px;top:332.72px;font-size:6.3px;line-height:6.3px;color:#fff;font-weight:bold;transform:translateX(-50%) scaleX(1.0000);transform-origin:center center;-webkit-text-stroke:0.15px currentColor;">40%</div>
<div class="t" style="right:463.70px;top:96.59px;font-size:5.5px;line-height:5.5px;color:#1e1e1e;font-weight:normal;">21</div>
<div class="t" style="right:463.70px;top:104.74px;font-size:5.5px;line-height:5.5px;color:#1e1e1e;font-weight:normal;">742</div>
<div class="t" style="right:463.70px;top:112.89px;font-size:5.5px;line-height:5.5px;color:#1e1e1e;font-weight:normal;">247</div>
<div class="t" style="right:439.60px;top:105.05px;font-size:5.2px;line-height:5.2px;color:#111;font-weight:bold;-webkit-text-stroke:0.15px currentColor;">1010</div>
<div class="t" style="right:463.70px;top:121.49px;font-size:5.5px;line-height:5.5px;color:#1e1e1e;font-weight:normal;">91</div>
<div class="t" style="right:463.70px;top:129.59px;font-size:5.5px;line-height:5.5px;color:#1e1e1e;font-weight:normal;">2505</div>
<div class="t" style="right:439.60px;top:125.95px;font-size:5.2px;line-height:5.2px;color:#111;font-weight:bold;-webkit-text-stroke:0.15px currentColor;">2596</div>
<div class="t" style="right:463.70px;top:137.59px;font-size:5.5px;line-height:5.5px;color:#1e1e1e;font-weight:normal;">689</div>
<div class="t" style="right:463.70px;top:145.69px;font-size:5.5px;line-height:5.5px;color:#1e1e1e;font-weight:normal;">52</div>
<div class="t" style="right:463.70px;top:153.79px;font-size:5.5px;line-height:5.5px;color:#1e1e1e;font-weight:normal;">357</div>
<div class="t" style="right:439.60px;top:145.95px;font-size:5.2px;line-height:5.2px;color:#111;font-weight:bold;-webkit-text-stroke:0.15px currentColor;">1098</div>
<div class="t" style="left:561.65px;top:164.12px;font-size:7.6px;line-height:7.6px;color:#fff;font-weight:bold;transform:translateX(-50%) scaleX(1.0000);transform-origin:center center;-webkit-text-stroke:0.15px currentColor;">4704</div>
<div class="t" style="left:561.65px;top:176.16px;font-size:7.2px;line-height:7.2px;color:#000;font-weight:bold;transform:translateX(-50%) scaleX(1.0000);transform-origin:center center;-webkit-text-stroke:0.15px currentColor;">11585</div>
<div class="t" style="left:561.65px;top:189.97px;font-size:7.3px;line-height:7.3px;color:#fff;font-weight:bold;transform:translateX(-50%) scaleX(1.0000);transform-origin:center center;-webkit-text-stroke:0.15px currentColor;">41%</div>
<div class="t" style="right:463.70px;top:203.59px;font-size:5.5px;line-height:5.5px;color:#f4e6e6;font-weight:normal;">8</div>
<div class="t" style="right:463.70px;top:211.64px;font-size:5.5px;line-height:5.5px;color:#f4e6e6;font-weight:normal;">260</div>
<div class="t" style="right:463.70px;top:219.69px;font-size:5.5px;line-height:5.5px;color:#f4e6e6;font-weight:normal;">28</div>
<div class="t" style="right:439.60px;top:211.95px;font-size:5.2px;line-height:5.2px;color:#111;font-weight:bold;-webkit-text-stroke:0.15px currentColor;">296</div>
<div class="t" style="right:439.60px;top:228.65px;font-size:5.2px;line-height:5.2px;color:#111;font-weight:bold;-webkit-text-stroke:0.15px currentColor;">344</div>
<div class="t" style="right:439.60px;top:236.75px;font-size:5.2px;line-height:5.2px;color:#111;font-weight:bold;-webkit-text-stroke:0.15px currentColor;">235</div>
<div class="t" style="left:561.65px;top:245.98px;font-size:8.0px;line-height:8.0px;color:#fff;font-weight:bold;transform:translateX(-50%) scaleX(1.0000);transform-origin:center center;-webkit-text-stroke:0.15px currentColor;">875</div>
<div class="t" style="left:561.65px;top:258.29px;font-size:7.4px;line-height:7.4px;color:#000;font-weight:bold;transform:translateX(-50%) scaleX(1.0000);transform-origin:center center;-webkit-text-stroke:0.15px currentColor;">1350</div>
<div class="t" style="left:561.65px;top:272.46px;font-size:7.2px;line-height:7.2px;color:#fff;font-weight:bold;transform:translateX(-50%) scaleX(1.0000);transform-origin:center center;-webkit-text-stroke:0.15px currentColor;">65%</div>
<div class="t" style="left:561.65px;top:298.76px;font-size:6.6px;line-height:6.6px;color:#000;font-weight:normal;transform:translateX(-50%) scaleX(1.0000);transform-origin:center center;-webkit-text-stroke:0.3px #000;">5577</div>
<div class="t" style="left:561.65px;top:312.85px;font-size:6.5px;line-height:6.5px;color:#000;font-weight:normal;transform:translateX(-50%) scaleX(1.0000);transform-origin:center center;-webkit-text-stroke:0.3px #000;">12935</div>
<div class="t" style="left:561.65px;top:332.72px;font-size:6.3px;line-height:6.3px;color:#fff;font-weight:bold;transform:translateX(-50%) scaleX(1.0000);transform-origin:center center;-webkit-text-stroke:0.15px currentColor;">43%</div>
<div class="t" style="right:415.80px;top:96.59px;font-size:5.5px;line-height:5.5px;color:#1e1e1e;font-weight:normal;">24</div>
<div class="t" style="right:415.80px;top:104.74px;font-size:5.5px;line-height:5.5px;color:#1e1e1e;font-weight:normal;">703</div>
<div class="t" style="right:415.80px;top:112.89px;font-size:5.5px;line-height:5.5px;color:#1e1e1e;font-weight:normal;">250</div>
<div class="t" style="right:392.40px;top:105.05px;font-size:5.2px;line-height:5.2px;color:#111;font-weight:bold;-webkit-text-stroke:0.15px currentColor;">977</div>
<div class="t" style="right:415.80px;top:121.49px;font-size:5.5px;line-height:5.5px;color:#1e1e1e;font-weight:normal;">90</div>
<div class="t" style="right:415.80px;top:129.59px;font-size:5.5px;line-height:5.5px;color:#1e1e1e;font-weight:normal;">2621</div>
<div class="t" style="right:392.40px;top:125.95px;font-size:5.2px;line-height:5.2px;color:#111;font-weight:bold;-webkit-text-stroke:0.15px currentColor;">2711</div>
<div class="t" style="right:415.80px;top:137.59px;font-size:5.5px;line-height:5.5px;color:#1e1e1e;font-weight:normal;">744</div>
<div class="t" style="right:415.80px;top:145.69px;font-size:5.5px;line-height:5.5px;color:#1e1e1e;font-weight:normal;">53</div>
<div class="t" style="right:415.80px;top:153.79px;font-size:5.5px;line-height:5.5px;color:#1e1e1e;font-weight:normal;">372</div>
<div class="t" style="right:392.40px;top:145.95px;font-size:5.2px;line-height:5.2px;color:#111;font-weight:bold;-webkit-text-stroke:0.15px currentColor;">1169</div>
<div class="t" style="left:609.20px;top:164.12px;font-size:7.6px;line-height:7.6px;color:#fff;font-weight:bold;transform:translateX(-50%) scaleX(1.0000);transform-origin:center center;-webkit-text-stroke:0.15px currentColor;">4857</div>
<div class="t" style="left:609.20px;top:176.16px;font-size:7.2px;line-height:7.2px;color:#000;font-weight:bold;transform:translateX(-50%) scaleX(1.0000);transform-origin:center center;-webkit-text-stroke:0.15px currentColor;">12089</div>
<div class="t" style="left:609.20px;top:189.97px;font-size:7.3px;line-height:7.3px;color:#fff;font-weight:bold;transform:translateX(-50%) scaleX(1.0000);transform-origin:center center;-webkit-text-stroke:0.15px currentColor;">40%</div>
<div class="t" style="right:415.80px;top:203.59px;font-size:5.5px;line-height:5.5px;color:#f4e6e6;font-weight:normal;">8</div>
<div class="t" style="right:415.80px;top:211.64px;font-size:5.5px;line-height:5.5px;color:#f4e6e6;font-weight:normal;">258</div>
<div class="t" style="right:415.80px;top:219.69px;font-size:5.5px;line-height:5.5px;color:#f4e6e6;font-weight:normal;">34</div>
<div class="t" style="right:392.40px;top:211.95px;font-size:5.2px;line-height:5.2px;color:#111;font-weight:bold;-webkit-text-stroke:0.15px currentColor;">300</div>
<div class="t" style="right:392.40px;top:228.65px;font-size:5.2px;line-height:5.2px;color:#111;font-weight:bold;-webkit-text-stroke:0.15px currentColor;">365</div>
<div class="t" style="right:392.40px;top:236.75px;font-size:5.2px;line-height:5.2px;color:#111;font-weight:bold;-webkit-text-stroke:0.15px currentColor;">242</div>
<div class="t" style="left:609.20px;top:245.98px;font-size:8.0px;line-height:8.0px;color:#fff;font-weight:bold;transform:translateX(-50%) scaleX(1.0000);transform-origin:center center;-webkit-text-stroke:0.15px currentColor;">907</div>
<div class="t" style="left:609.20px;top:258.29px;font-size:7.4px;line-height:7.4px;color:#000;font-weight:bold;transform:translateX(-50%) scaleX(1.0000);transform-origin:center center;-webkit-text-stroke:0.15px currentColor;">1367</div>
<div class="t" style="left:609.20px;top:272.46px;font-size:7.2px;line-height:7.2px;color:#fff;font-weight:bold;transform:translateX(-50%) scaleX(1.0000);transform-origin:center center;-webkit-text-stroke:0.15px currentColor;">66%</div>
<div class="t" style="left:609.20px;top:298.76px;font-size:6.6px;line-height:6.6px;color:#000;font-weight:normal;transform:translateX(-50%) scaleX(1.0000);transform-origin:center center;-webkit-text-stroke:0.3px #000;">5764</div>
<div class="t" style="left:609.20px;top:312.85px;font-size:6.5px;line-height:6.5px;color:#000;font-weight:normal;transform:translateX(-50%) scaleX(1.0000);transform-origin:center center;-webkit-text-stroke:0.3px #000;">13456</div>
<div class="t" style="left:609.20px;top:332.72px;font-size:6.3px;line-height:6.3px;color:#fff;font-weight:bold;transform:translateX(-50%) scaleX(1.0000);transform-origin:center center;-webkit-text-stroke:0.15px currentColor;">43%</div>
<div class="t" style="right:368.60px;top:96.59px;font-size:5.5px;line-height:5.5px;color:#1e1e1e;font-weight:normal;">22</div>
<div class="t" style="right:368.60px;top:104.74px;font-size:5.5px;line-height:5.5px;color:#1e1e1e;font-weight:normal;">728</div>
<div class="t" style="right:368.60px;top:112.89px;font-size:5.5px;line-height:5.5px;color:#1e1e1e;font-weight:normal;">230</div>
<div class="t" style="right:344.90px;top:105.05px;font-size:5.2px;line-height:5.2px;color:#111;font-weight:bold;-webkit-text-stroke:0.15px currentColor;">980</div>
<div class="t" style="right:368.60px;top:121.49px;font-size:5.5px;line-height:5.5px;color:#1e1e1e;font-weight:normal;">90</div>
<div class="t" style="right:368.60px;top:129.59px;font-size:5.5px;line-height:5.5px;color:#1e1e1e;font-weight:normal;">2598</div>
<div class="t" style="right:344.90px;top:125.95px;font-size:5.2px;line-height:5.2px;color:#111;font-weight:bold;-webkit-text-stroke:0.15px currentColor;">2688</div>
<div class="t" style="right:368.60px;top:137.59px;font-size:5.5px;line-height:5.5px;color:#1e1e1e;font-weight:normal;">695</div>
<div class="t" style="right:368.60px;top:145.69px;font-size:5.5px;line-height:5.5px;color:#1e1e1e;font-weight:normal;">44</div>
<div class="t" style="right:368.60px;top:153.79px;font-size:5.5px;line-height:5.5px;color:#1e1e1e;font-weight:normal;">373</div>
<div class="t" style="right:344.90px;top:145.95px;font-size:5.2px;line-height:5.2px;color:#111;font-weight:bold;-webkit-text-stroke:0.15px currentColor;">1112</div>
<div class="t" style="left:656.55px;top:164.12px;font-size:7.6px;line-height:7.6px;color:#fff;font-weight:bold;transform:translateX(-50%) scaleX(1.0000);transform-origin:center center;-webkit-text-stroke:0.15px currentColor;">4780</div>
<div class="t" style="left:656.55px;top:176.16px;font-size:7.2px;line-height:7.2px;color:#000;font-weight:bold;transform:translateX(-50%) scaleX(1.0000);transform-origin:center center;-webkit-text-stroke:0.15px currentColor;">11996</div>
<div class="t" style="left:656.55px;top:189.97px;font-size:7.3px;line-height:7.3px;color:#fff;font-weight:bold;transform:translateX(-50%) scaleX(1.0000);transform-origin:center center;-webkit-text-stroke:0.15px currentColor;">40%</div>
<div class="t" style="right:368.60px;top:203.59px;font-size:5.5px;line-height:5.5px;color:#f4e6e6;font-weight:normal;">9</div>
<div class="t" style="right:368.60px;top:211.64px;font-size:5.5px;line-height:5.5px;color:#f4e6e6;font-weight:normal;">246</div>
<div class="t" style="right:368.60px;top:219.69px;font-size:5.5px;line-height:5.5px;color:#f4e6e6;font-weight:normal;">52</div>
<div class="t" style="right:344.90px;top:211.95px;font-size:5.2px;line-height:5.2px;color:#111;font-weight:bold;-webkit-text-stroke:0.15px currentColor;">307</div>
<div class="t" style="right:344.90px;top:228.65px;font-size:5.2px;line-height:5.2px;color:#111;font-weight:bold;-webkit-text-stroke:0.15px currentColor;">336</div>
<div class="t" style="right:344.90px;top:236.75px;font-size:5.2px;line-height:5.2px;color:#111;font-weight:bold;-webkit-text-stroke:0.15px currentColor;">237</div>
<div class="t" style="left:656.55px;top:245.98px;font-size:8.0px;line-height:8.0px;color:#fff;font-weight:bold;transform:translateX(-50%) scaleX(1.0000);transform-origin:center center;-webkit-text-stroke:0.15px currentColor;">879</div>
<div class="t" style="left:656.55px;top:258.29px;font-size:7.4px;line-height:7.4px;color:#000;font-weight:bold;transform:translateX(-50%) scaleX(1.0000);transform-origin:center center;-webkit-text-stroke:0.15px currentColor;">1317</div>
<div class="t" style="left:656.55px;top:272.46px;font-size:7.2px;line-height:7.2px;color:#fff;font-weight:bold;transform:translateX(-50%) scaleX(1.0000);transform-origin:center center;-webkit-text-stroke:0.15px currentColor;">67%</div>
<div class="t" style="left:656.55px;top:298.76px;font-size:6.6px;line-height:6.6px;color:#000;font-weight:normal;transform:translateX(-50%) scaleX(1.0000);transform-origin:center center;-webkit-text-stroke:0.3px #000;">5659</div>
<div class="t" style="left:656.55px;top:312.85px;font-size:6.5px;line-height:6.5px;color:#000;font-weight:normal;transform:translateX(-50%) scaleX(1.0000);transform-origin:center center;-webkit-text-stroke:0.3px #000;">13313</div>
<div class="t" style="left:656.55px;top:332.72px;font-size:6.3px;line-height:6.3px;color:#fff;font-weight:bold;transform:translateX(-50%) scaleX(1.0000);transform-origin:center center;-webkit-text-stroke:0.15px currentColor;">43%</div>
<div class="t" style="right:321.00px;top:96.59px;font-size:5.5px;line-height:5.5px;color:#1e1e1e;font-weight:normal;">23</div>
<div class="t" style="right:321.00px;top:104.74px;font-size:5.5px;line-height:5.5px;color:#1e1e1e;font-weight:normal;">779</div>
<div class="t" style="right:321.00px;top:112.89px;font-size:5.5px;line-height:5.5px;color:#1e1e1e;font-weight:normal;">232</div>
<div class="t" style="right:297.90px;top:105.05px;font-size:5.2px;line-height:5.2px;color:#111;font-weight:bold;-webkit-text-stroke:0.15px currentColor;">1034</div>
<div class="t" style="right:321.00px;top:121.49px;font-size:5.5px;line-height:5.5px;color:#1e1e1e;font-weight:normal;">91</div>
<div class="t" style="right:321.00px;top:129.59px;font-size:5.5px;line-height:5.5px;color:#1e1e1e;font-weight:normal;">2538</div>
<div class="t" style="right:297.90px;top:125.95px;font-size:5.2px;line-height:5.2px;color:#111;font-weight:bold;-webkit-text-stroke:0.15px currentColor;">2629</div>
<div class="t" style="right:321.00px;top:137.59px;font-size:5.5px;line-height:5.5px;color:#1e1e1e;font-weight:normal;">694</div>
<div class="t" style="right:321.00px;top:145.69px;font-size:5.5px;line-height:5.5px;color:#1e1e1e;font-weight:normal;">40</div>
<div class="t" style="right:321.00px;top:153.79px;font-size:5.5px;line-height:5.5px;color:#1e1e1e;font-weight:normal;">308</div>
<div class="t" style="right:297.90px;top:145.95px;font-size:5.2px;line-height:5.2px;color:#111;font-weight:bold;-webkit-text-stroke:0.15px currentColor;">1042</div>
<div class="t" style="left:703.80px;top:164.12px;font-size:7.6px;line-height:7.6px;color:#fff;font-weight:bold;transform:translateX(-50%) scaleX(1.0000);transform-origin:center center;-webkit-text-stroke:0.15px currentColor;">4705</div>
<div class="t" style="left:703.80px;top:176.16px;font-size:7.2px;line-height:7.2px;color:#000;font-weight:bold;transform:translateX(-50%) scaleX(1.0000);transform-origin:center center;-webkit-text-stroke:0.15px currentColor;">11537</div>
<div class="t" style="left:703.80px;top:189.97px;font-size:7.3px;line-height:7.3px;color:#fff;font-weight:bold;transform:translateX(-50%) scaleX(1.0000);transform-origin:center center;-webkit-text-stroke:0.15px currentColor;">41%</div>
<div class="t" style="right:321.00px;top:203.59px;font-size:5.5px;line-height:5.5px;color:#f4e6e6;font-weight:normal;">8</div>
<div class="t" style="right:321.00px;top:211.64px;font-size:5.5px;line-height:5.5px;color:#f4e6e6;font-weight:normal;">247</div>
<div class="t" style="right:321.00px;top:219.69px;font-size:5.5px;line-height:5.5px;color:#f4e6e6;font-weight:normal;">47</div>
<div class="t" style="right:297.90px;top:211.95px;font-size:5.2px;line-height:5.2px;color:#111;font-weight:bold;-webkit-text-stroke:0.15px currentColor;">302</div>
<div class="t" style="right:297.90px;top:228.65px;font-size:5.2px;line-height:5.2px;color:#111;font-weight:bold;-webkit-text-stroke:0.15px currentColor;">323</div>
<div class="t" style="right:297.90px;top:236.75px;font-size:5.2px;line-height:5.2px;color:#111;font-weight:bold;-webkit-text-stroke:0.15px currentColor;">220</div>
<div class="t" style="left:703.80px;top:245.98px;font-size:8.0px;line-height:8.0px;color:#fff;font-weight:bold;transform:translateX(-50%) scaleX(1.0000);transform-origin:center center;-webkit-text-stroke:0.15px currentColor;">846</div>
<div class="t" style="left:703.80px;top:258.29px;font-size:7.4px;line-height:7.4px;color:#000;font-weight:bold;transform:translateX(-50%) scaleX(1.0000);transform-origin:center center;-webkit-text-stroke:0.15px currentColor;">1293</div>
<div class="t" style="left:703.80px;top:272.46px;font-size:7.2px;line-height:7.2px;color:#fff;font-weight:bold;transform:translateX(-50%) scaleX(1.0000);transform-origin:center center;-webkit-text-stroke:0.15px currentColor;">65%</div>
<div class="t" style="left:703.80px;top:298.76px;font-size:6.6px;line-height:6.6px;color:#000;font-weight:normal;transform:translateX(-50%) scaleX(1.0000);transform-origin:center center;-webkit-text-stroke:0.3px #000;">5551</div>
<div class="t" style="left:703.80px;top:312.85px;font-size:6.5px;line-height:6.5px;color:#000;font-weight:normal;transform:translateX(-50%) scaleX(1.0000);transform-origin:center center;-webkit-text-stroke:0.3px #000;">12830</div>
<div class="t" style="left:703.80px;top:332.72px;font-size:6.3px;line-height:6.3px;color:#fff;font-weight:bold;transform:translateX(-50%) scaleX(1.0000);transform-origin:center center;-webkit-text-stroke:0.15px currentColor;">43%</div>
<div class="t" style="right:274.00px;top:96.59px;font-size:5.5px;line-height:5.5px;color:#1e1e1e;font-weight:normal;">21</div>
<div class="t" style="right:274.00px;top:104.74px;font-size:5.5px;line-height:5.5px;color:#1e1e1e;font-weight:normal;">777</div>
<div class="t" style="right:274.00px;top:112.89px;font-size:5.5px;line-height:5.5px;color:#1e1e1e;font-weight:normal;">257</div>
<div class="t" style="right:249.70px;top:105.05px;font-size:5.2px;line-height:5.2px;color:#111;font-weight:bold;-webkit-text-stroke:0.15px currentColor;">1055</div>
<div class="t" style="right:274.00px;top:121.49px;font-size:5.5px;line-height:5.5px;color:#1e1e1e;font-weight:normal;">93</div>
<div class="t" style="right:274.00px;top:129.59px;font-size:5.5px;line-height:5.5px;color:#1e1e1e;font-weight:normal;">2477</div>
<div class="t" style="right:249.70px;top:125.95px;font-size:5.2px;line-height:5.2px;color:#111;font-weight:bold;-webkit-text-stroke:0.15px currentColor;">2570</div>
<div class="t" style="right:274.00px;top:137.59px;font-size:5.5px;line-height:5.5px;color:#1e1e1e;font-weight:normal;">680</div>
<div class="t" style="right:274.00px;top:145.69px;font-size:5.5px;line-height:5.5px;color:#1e1e1e;font-weight:normal;">44</div>
<div class="t" style="right:274.00px;top:153.79px;font-size:5.5px;line-height:5.5px;color:#1e1e1e;font-weight:normal;">299</div>
<div class="t" style="right:249.70px;top:145.95px;font-size:5.2px;line-height:5.2px;color:#111;font-weight:bold;-webkit-text-stroke:0.15px currentColor;">1023</div>
<div class="t" style="left:751.40px;top:164.12px;font-size:7.6px;line-height:7.6px;color:#fff;font-weight:bold;transform:translateX(-50%) scaleX(1.0000);transform-origin:center center;-webkit-text-stroke:0.15px currentColor;">4648</div>
<div class="t" style="left:751.40px;top:176.16px;font-size:7.2px;line-height:7.2px;color:#000;font-weight:bold;transform:translateX(-50%) scaleX(1.0000);transform-origin:center center;-webkit-text-stroke:0.15px currentColor;">11655</div>
<div class="t" style="left:751.40px;top:189.97px;font-size:7.3px;line-height:7.3px;color:#fff;font-weight:bold;transform:translateX(-50%) scaleX(1.0000);transform-origin:center center;-webkit-text-stroke:0.15px currentColor;">40%</div>
<div class="t" style="right:274.00px;top:203.59px;font-size:5.5px;line-height:5.5px;color:#f4e6e6;font-weight:normal;">6</div>
<div class="t" style="right:274.00px;top:211.64px;font-size:5.5px;line-height:5.5px;color:#f4e6e6;font-weight:normal;">227</div>
<div class="t" style="right:274.00px;top:219.69px;font-size:5.5px;line-height:5.5px;color:#f4e6e6;font-weight:normal;">84</div>
<div class="t" style="right:249.70px;top:211.95px;font-size:5.2px;line-height:5.2px;color:#111;font-weight:bold;-webkit-text-stroke:0.15px currentColor;">317</div>
<div class="t" style="right:249.70px;top:228.65px;font-size:5.2px;line-height:5.2px;color:#111;font-weight:bold;-webkit-text-stroke:0.15px currentColor;">346</div>
<div class="t" style="right:249.70px;top:236.75px;font-size:5.2px;line-height:5.2px;color:#111;font-weight:bold;-webkit-text-stroke:0.15px currentColor;">209</div>
<div class="t" style="left:751.40px;top:245.98px;font-size:8.0px;line-height:8.0px;color:#fff;font-weight:bold;transform:translateX(-50%) scaleX(1.0000);transform-origin:center center;-webkit-text-stroke:0.15px currentColor;">872</div>
<div class="t" style="left:751.40px;top:258.29px;font-size:7.4px;line-height:7.4px;color:#000;font-weight:bold;transform:translateX(-50%) scaleX(1.0000);transform-origin:center center;-webkit-text-stroke:0.15px currentColor;">1342</div>
<div class="t" style="left:751.40px;top:272.46px;font-size:7.2px;line-height:7.2px;color:#fff;font-weight:bold;transform:translateX(-50%) scaleX(1.0000);transform-origin:center center;-webkit-text-stroke:0.15px currentColor;">65%</div>
<div class="t" style="left:751.40px;top:298.76px;font-size:6.6px;line-height:6.6px;color:#000;font-weight:normal;transform:translateX(-50%) scaleX(1.0000);transform-origin:center center;-webkit-text-stroke:0.3px #000;">5520</div>
<div class="t" style="left:751.40px;top:312.85px;font-size:6.5px;line-height:6.5px;color:#000;font-weight:normal;transform:translateX(-50%) scaleX(1.0000);transform-origin:center center;-webkit-text-stroke:0.3px #000;">12997</div>
<div class="t" style="left:751.40px;top:332.72px;font-size:6.3px;line-height:6.3px;color:#fff;font-weight:bold;transform:translateX(-50%) scaleX(1.0000);transform-origin:center center;-webkit-text-stroke:0.15px currentColor;">42%</div>
<div class="t" style="right:226.00px;top:96.59px;font-size:5.5px;line-height:5.5px;color:#1e1e1e;font-weight:normal;">19</div>
<div class="t" style="right:226.00px;top:104.74px;font-size:5.5px;line-height:5.5px;color:#1e1e1e;font-weight:normal;">767</div>
<div class="t" style="right:226.00px;top:112.89px;font-size:5.5px;line-height:5.5px;color:#1e1e1e;font-weight:normal;">320</div>
<div class="t" style="right:202.40px;top:105.05px;font-size:5.2px;line-height:5.2px;color:#111;font-weight:bold;-webkit-text-stroke:0.15px currentColor;">1106</div>
<div class="t" style="right:226.00px;top:121.49px;font-size:5.5px;line-height:5.5px;color:#1e1e1e;font-weight:normal;">95</div>
<div class="t" style="right:226.00px;top:129.59px;font-size:5.5px;line-height:5.5px;color:#1e1e1e;font-weight:normal;">2399</div>
<div class="t" style="right:202.40px;top:125.95px;font-size:5.2px;line-height:5.2px;color:#111;font-weight:bold;-webkit-text-stroke:0.15px currentColor;">2494</div>
<div class="t" style="right:226.00px;top:137.59px;font-size:5.5px;line-height:5.5px;color:#1e1e1e;font-weight:normal;">626</div>
<div class="t" style="right:226.00px;top:145.69px;font-size:5.5px;line-height:5.5px;color:#1e1e1e;font-weight:normal;">44</div>
<div class="t" style="right:226.00px;top:153.79px;font-size:5.5px;line-height:5.5px;color:#1e1e1e;font-weight:normal;">344</div>
<div class="t" style="right:202.40px;top:145.95px;font-size:5.2px;line-height:5.2px;color:#111;font-weight:bold;-webkit-text-stroke:0.15px currentColor;">1014</div>
<div class="t" style="left:799.15px;top:164.12px;font-size:7.6px;line-height:7.6px;color:#fff;font-weight:bold;transform:translateX(-50%) scaleX(1.0000);transform-origin:center center;-webkit-text-stroke:0.15px currentColor;">4614</div>
<div class="t" style="left:799.15px;top:176.16px;font-size:7.2px;line-height:7.2px;color:#000;font-weight:bold;transform:translateX(-50%) scaleX(1.0000);transform-origin:center center;-webkit-text-stroke:0.15px currentColor;">11792</div>
<div class="t" style="left:799.15px;top:189.97px;font-size:7.3px;line-height:7.3px;color:#fff;font-weight:bold;transform:translateX(-50%) scaleX(1.0000);transform-origin:center center;-webkit-text-stroke:0.15px currentColor;">39%</div>
<div class="t" style="right:226.00px;top:203.59px;font-size:5.5px;line-height:5.5px;color:#f4e6e6;font-weight:normal;">8</div>
<div class="t" style="right:226.00px;top:211.64px;font-size:5.5px;line-height:5.5px;color:#f4e6e6;font-weight:normal;">227</div>
<div class="t" style="right:226.00px;top:219.69px;font-size:5.5px;line-height:5.5px;color:#f4e6e6;font-weight:normal;">102</div>
<div class="t" style="right:202.40px;top:211.95px;font-size:5.2px;line-height:5.2px;color:#111;font-weight:bold;-webkit-text-stroke:0.15px currentColor;">337</div>
<div class="t" style="right:202.40px;top:228.65px;font-size:5.2px;line-height:5.2px;color:#111;font-weight:bold;-webkit-text-stroke:0.15px currentColor;">346</div>
<div class="t" style="right:202.40px;top:236.75px;font-size:5.2px;line-height:5.2px;color:#111;font-weight:bold;-webkit-text-stroke:0.15px currentColor;">218</div>
<div class="t" style="left:799.15px;top:245.98px;font-size:8.0px;line-height:8.0px;color:#fff;font-weight:bold;transform:translateX(-50%) scaleX(1.0000);transform-origin:center center;-webkit-text-stroke:0.15px currentColor;">901</div>
<div class="t" style="left:799.15px;top:258.29px;font-size:7.4px;line-height:7.4px;color:#000;font-weight:bold;transform:translateX(-50%) scaleX(1.0000);transform-origin:center center;-webkit-text-stroke:0.15px currentColor;">1343</div>
<div class="t" style="left:799.15px;top:272.46px;font-size:7.2px;line-height:7.2px;color:#fff;font-weight:bold;transform:translateX(-50%) scaleX(1.0000);transform-origin:center center;-webkit-text-stroke:0.15px currentColor;">67%</div>
<div class="t" style="left:799.15px;top:298.76px;font-size:6.6px;line-height:6.6px;color:#000;font-weight:normal;transform:translateX(-50%) scaleX(1.0000);transform-origin:center center;-webkit-text-stroke:0.3px #000;">5515</div>
<div class="t" style="left:799.15px;top:312.85px;font-size:6.5px;line-height:6.5px;color:#000;font-weight:normal;transform:translateX(-50%) scaleX(1.0000);transform-origin:center center;-webkit-text-stroke:0.3px #000;">13135</div>
<div class="t" style="left:799.15px;top:332.72px;font-size:6.3px;line-height:6.3px;color:#fff;font-weight:bold;transform:translateX(-50%) scaleX(1.0000);transform-origin:center center;-webkit-text-stroke:0.15px currentColor;">42%</div>
<div class="t" style="right:178.40px;top:96.59px;font-size:5.5px;line-height:5.5px;color:#1e1e1e;font-weight:normal;">20</div>
<div class="t" style="right:178.40px;top:104.74px;font-size:5.5px;line-height:5.5px;color:#1e1e1e;font-weight:normal;">846</div>
<div class="t" style="right:178.40px;top:112.89px;font-size:5.5px;line-height:5.5px;color:#1e1e1e;font-weight:normal;">279</div>
<div class="t" style="right:154.80px;top:105.05px;font-size:5.2px;line-height:5.2px;color:#111;font-weight:bold;-webkit-text-stroke:0.15px currentColor;">1145</div>
<div class="t" style="right:178.40px;top:121.49px;font-size:5.5px;line-height:5.5px;color:#1e1e1e;font-weight:normal;">102</div>
<div class="t" style="right:178.40px;top:129.59px;font-size:5.5px;line-height:5.5px;color:#1e1e1e;font-weight:normal;">2468</div>
<div class="t" style="right:154.80px;top:125.95px;font-size:5.2px;line-height:5.2px;color:#111;font-weight:bold;-webkit-text-stroke:0.15px currentColor;">2570</div>
<div class="t" style="right:178.40px;top:137.59px;font-size:5.5px;line-height:5.5px;color:#1e1e1e;font-weight:normal;">608</div>
<div class="t" style="right:178.40px;top:145.69px;font-size:5.5px;line-height:5.5px;color:#1e1e1e;font-weight:normal;">42</div>
<div class="t" style="right:178.40px;top:153.79px;font-size:5.5px;line-height:5.5px;color:#1e1e1e;font-weight:normal;">331</div>
<div class="t" style="right:154.80px;top:145.95px;font-size:5.2px;line-height:5.2px;color:#111;font-weight:bold;-webkit-text-stroke:0.15px currentColor;">981</div>
<div class="t" style="left:846.60px;top:164.12px;font-size:7.6px;line-height:7.6px;color:#fff;font-weight:bold;transform:translateX(-50%) scaleX(1.0000);transform-origin:center center;-webkit-text-stroke:0.15px currentColor;">4696</div>
<div class="t" style="left:846.60px;top:176.16px;font-size:7.2px;line-height:7.2px;color:#000;font-weight:bold;transform:translateX(-50%) scaleX(1.0000);transform-origin:center center;-webkit-text-stroke:0.15px currentColor;">12228</div>
<div class="t" style="left:846.60px;top:189.97px;font-size:7.3px;line-height:7.3px;color:#fff;font-weight:bold;transform:translateX(-50%) scaleX(1.0000);transform-origin:center center;-webkit-text-stroke:0.15px currentColor;">38%</div>
<div class="t" style="right:178.40px;top:203.59px;font-size:5.5px;line-height:5.5px;color:#f4e6e6;font-weight:normal;">7</div>
<div class="t" style="right:178.40px;top:211.64px;font-size:5.5px;line-height:5.5px;color:#f4e6e6;font-weight:normal;">223</div>
<div class="t" style="right:178.40px;top:219.69px;font-size:5.5px;line-height:5.5px;color:#f4e6e6;font-weight:normal;">119</div>
<div class="t" style="right:154.80px;top:211.95px;font-size:5.2px;line-height:5.2px;color:#111;font-weight:bold;-webkit-text-stroke:0.15px currentColor;">349</div>
<div class="t" style="right:154.80px;top:228.65px;font-size:5.2px;line-height:5.2px;color:#111;font-weight:bold;-webkit-text-stroke:0.15px currentColor;">349</div>
<div class="t" style="right:154.80px;top:236.75px;font-size:5.2px;line-height:5.2px;color:#111;font-weight:bold;-webkit-text-stroke:0.15px currentColor;">220</div>
<div class="t" style="left:846.60px;top:245.98px;font-size:8.0px;line-height:8.0px;color:#fff;font-weight:bold;transform:translateX(-50%) scaleX(1.0000);transform-origin:center center;-webkit-text-stroke:0.15px currentColor;">918</div>
<div class="t" style="left:846.60px;top:258.29px;font-size:7.4px;line-height:7.4px;color:#000;font-weight:bold;transform:translateX(-50%) scaleX(1.0000);transform-origin:center center;-webkit-text-stroke:0.15px currentColor;">1396</div>
<div class="t" style="left:846.60px;top:272.46px;font-size:7.2px;line-height:7.2px;color:#fff;font-weight:bold;transform:translateX(-50%) scaleX(1.0000);transform-origin:center center;-webkit-text-stroke:0.15px currentColor;">66%</div>
<div class="t" style="left:846.60px;top:298.76px;font-size:6.6px;line-height:6.6px;color:#000;font-weight:normal;transform:translateX(-50%) scaleX(1.0000);transform-origin:center center;-webkit-text-stroke:0.3px #000;">5614</div>
<div class="t" style="left:846.60px;top:312.85px;font-size:6.5px;line-height:6.5px;color:#000;font-weight:normal;transform:translateX(-50%) scaleX(1.0000);transform-origin:center center;-webkit-text-stroke:0.3px #000;">13624</div>
<div class="t" style="left:846.60px;top:332.72px;font-size:6.3px;line-height:6.3px;color:#fff;font-weight:bold;transform:translateX(-50%) scaleX(1.0000);transform-origin:center center;-webkit-text-stroke:0.15px currentColor;">41%</div>
<div class="t" style="right:131.30px;top:96.59px;font-size:5.5px;line-height:5.5px;color:#1e1e1e;font-weight:normal;">23</div>
<div class="t" style="right:131.30px;top:104.74px;font-size:5.5px;line-height:5.5px;color:#1e1e1e;font-weight:normal;">865</div>
<div class="t" style="right:131.30px;top:112.89px;font-size:5.5px;line-height:5.5px;color:#1e1e1e;font-weight:normal;">238</div>
<div class="t" style="right:107.20px;top:113.15px;font-size:5.2px;line-height:5.2px;color:#111;font-weight:bold;-webkit-text-stroke:0.15px currentColor;">1126</div>
<div class="t" style="right:131.30px;top:121.49px;font-size:5.5px;line-height:5.5px;color:#1e1e1e;font-weight:normal;">108</div>
<div class="t" style="right:131.30px;top:129.59px;font-size:5.5px;line-height:5.5px;color:#1e1e1e;font-weight:normal;">2520</div>
<div class="t" style="right:107.20px;top:129.85px;font-size:5.2px;line-height:5.2px;color:#111;font-weight:bold;-webkit-text-stroke:0.15px currentColor;">2628</div>
<div class="t" style="right:131.30px;top:137.59px;font-size:5.5px;line-height:5.5px;color:#1e1e1e;font-weight:normal;">593</div>
<div class="t" style="right:131.30px;top:145.69px;font-size:5.5px;line-height:5.5px;color:#1e1e1e;font-weight:normal;">42</div>
<div class="t" style="right:131.30px;top:153.79px;font-size:5.5px;line-height:5.5px;color:#1e1e1e;font-weight:normal;">331</div>
<div class="t" style="right:107.20px;top:154.05px;font-size:5.2px;line-height:5.2px;color:#111;font-weight:bold;-webkit-text-stroke:0.15px currentColor;">966</div>
<div class="t" style="left:894.20px;top:164.12px;font-size:7.6px;line-height:7.6px;color:#fff;font-weight:bold;transform:translateX(-50%) scaleX(1.0000);transform-origin:center center;-webkit-text-stroke:0.15px currentColor;">4720</div>
<div class="t" style="left:894.20px;top:176.16px;font-size:7.2px;line-height:7.2px;color:#000;font-weight:bold;transform:translateX(-50%) scaleX(1.0000);transform-origin:center center;-webkit-text-stroke:0.15px currentColor;">12524</div>
<div class="t" style="left:894.20px;top:192.77px;font-size:7.3px;line-height:7.3px;color:#fff;font-weight:bold;transform:translateX(-50%) scaleX(1.0000);transform-origin:center center;-webkit-text-stroke:0.15px currentColor;">38%</div>
<div class="t" style="right:131.30px;top:203.59px;font-size:5.5px;line-height:5.5px;color:#f4e6e6;font-weight:normal;">4</div>
<div class="t" style="right:131.30px;top:211.64px;font-size:5.5px;line-height:5.5px;color:#f4e6e6;font-weight:normal;">214</div>
<div class="t" style="right:131.30px;top:219.69px;font-size:5.5px;line-height:5.5px;color:#f4e6e6;font-weight:normal;">172</div>
<div class="t" style="right:107.20px;top:219.95px;font-size:5.2px;line-height:5.2px;color:#111;font-weight:bold;-webkit-text-stroke:0.15px currentColor;">390</div>
<div class="t" style="right:107.20px;top:228.65px;font-size:5.2px;line-height:5.2px;color:#111;font-weight:bold;-webkit-text-stroke:0.15px currentColor;">361</div>
<div class="t" style="right:107.20px;top:236.75px;font-size:5.2px;line-height:5.2px;color:#111;font-weight:bold;-webkit-text-stroke:0.15px currentColor;">213</div>
<div class="t" style="left:894.20px;top:245.98px;font-size:8.0px;line-height:8.0px;color:#fff;font-weight:bold;transform:translateX(-50%) scaleX(1.0000);transform-origin:center center;-webkit-text-stroke:0.15px currentColor;">964</div>
<div class="t" style="left:894.20px;top:258.29px;font-size:7.4px;line-height:7.4px;color:#000;font-weight:bold;transform:translateX(-50%) scaleX(1.0000);transform-origin:center center;-webkit-text-stroke:0.15px currentColor;">1469</div>
<div class="t" style="left:894.20px;top:275.46px;font-size:7.2px;line-height:7.2px;color:#fff;font-weight:bold;transform:translateX(-50%) scaleX(1.0000);transform-origin:center center;-webkit-text-stroke:0.15px currentColor;">66%</div>
<div class="t" style="left:894.20px;top:298.76px;font-size:6.6px;line-height:6.6px;color:#000;font-weight:normal;transform:translateX(-50%) scaleX(1.0000);transform-origin:center center;-webkit-text-stroke:0.3px #000;">5684</div>
<div class="t" style="left:894.20px;top:312.85px;font-size:6.5px;line-height:6.5px;color:#000;font-weight:normal;transform:translateX(-50%) scaleX(1.0000);transform-origin:center center;-webkit-text-stroke:0.3px #000;">13993</div>
<div class="t" style="left:894.20px;top:332.72px;font-size:6.3px;line-height:6.3px;color:#fff;font-weight:bold;transform:translateX(-50%) scaleX(1.0000);transform-origin:center center;-webkit-text-stroke:0.15px currentColor;">41%</div>
<div class="t" style="right:83.20px;top:96.59px;font-size:5.5px;line-height:5.5px;color:#1e1e1e;font-weight:normal;">16</div>
<div class="t" style="right:83.20px;top:104.74px;font-size:5.5px;line-height:5.5px;color:#1e1e1e;font-weight:normal;">884</div>
<div class="t" style="right:83.20px;top:112.89px;font-size:5.5px;line-height:5.5px;color:#1e1e1e;font-weight:normal;">244</div>
<div class="t" style="right:59.90px;top:105.05px;font-size:5.2px;line-height:5.2px;color:#111;font-weight:bold;-webkit-text-stroke:0.15px currentColor;">1144</div>
<div class="t" style="right:83.20px;top:121.49px;font-size:5.5px;line-height:5.5px;color:#1e1e1e;font-weight:normal;">105</div>
<div class="t" style="right:83.20px;top:129.59px;font-size:5.5px;line-height:5.5px;color:#1e1e1e;font-weight:normal;">2472</div>
<div class="t" style="right:59.90px;top:125.95px;font-size:5.2px;line-height:5.2px;color:#111;font-weight:bold;-webkit-text-stroke:0.15px currentColor;">2577</div>
<div class="t" style="right:83.20px;top:137.59px;font-size:5.5px;line-height:5.5px;color:#1e1e1e;font-weight:normal;">585</div>
<div class="t" style="right:83.20px;top:145.69px;font-size:5.5px;line-height:5.5px;color:#1e1e1e;font-weight:normal;">41</div>
<div class="t" style="right:83.20px;top:153.79px;font-size:5.5px;line-height:5.5px;color:#1e1e1e;font-weight:normal;">329</div>
<div class="t" style="right:59.90px;top:145.95px;font-size:5.2px;line-height:5.2px;color:#111;font-weight:bold;-webkit-text-stroke:0.15px currentColor;">955</div>
<div class="t" style="left:941.65px;top:164.12px;font-size:7.6px;line-height:7.6px;color:#fff;font-weight:bold;transform:translateX(-50%) scaleX(1.0000);transform-origin:center center;-webkit-text-stroke:0.15px currentColor;">4676</div>
<div class="t" style="left:941.65px;top:176.16px;font-size:7.2px;line-height:7.2px;color:#000;font-weight:bold;transform:translateX(-50%) scaleX(1.0000);transform-origin:center center;-webkit-text-stroke:0.15px currentColor;">12577</div>
<div class="t" style="left:941.65px;top:189.97px;font-size:7.3px;line-height:7.3px;color:#fff;font-weight:bold;transform:translateX(-50%) scaleX(1.0000);transform-origin:center center;-webkit-text-stroke:0.15px currentColor;">37%</div>
<div class="t" style="right:83.20px;top:203.59px;font-size:5.5px;line-height:5.5px;color:#f4e6e6;font-weight:normal;">8</div>
<div class="t" style="right:83.20px;top:211.64px;font-size:5.5px;line-height:5.5px;color:#f4e6e6;font-weight:normal;">184</div>
<div class="t" style="right:83.20px;top:219.69px;font-size:5.5px;line-height:5.5px;color:#f4e6e6;font-weight:normal;">212</div>
<div class="t" style="right:59.90px;top:211.95px;font-size:5.2px;line-height:5.2px;color:#111;font-weight:bold;-webkit-text-stroke:0.15px currentColor;">404</div>
<div class="t" style="right:59.90px;top:228.65px;font-size:5.2px;line-height:5.2px;color:#111;font-weight:bold;-webkit-text-stroke:0.15px currentColor;">355</div>
<div class="t" style="right:59.90px;top:236.75px;font-size:5.2px;line-height:5.2px;color:#111;font-weight:bold;-webkit-text-stroke:0.15px currentColor;">209</div>
<div class="t" style="left:941.65px;top:245.98px;font-size:8.0px;line-height:8.0px;color:#fff;font-weight:bold;transform:translateX(-50%) scaleX(1.0000);transform-origin:center center;-webkit-text-stroke:0.15px currentColor;">968</div>
<div class="t" style="left:941.65px;top:258.29px;font-size:7.4px;line-height:7.4px;color:#000;font-weight:bold;transform:translateX(-50%) scaleX(1.0000);transform-origin:center center;-webkit-text-stroke:0.15px currentColor;">1487</div>
<div class="t" style="left:941.65px;top:272.46px;font-size:7.2px;line-height:7.2px;color:#fff;font-weight:bold;transform:translateX(-50%) scaleX(1.0000);transform-origin:center center;-webkit-text-stroke:0.15px currentColor;">65%</div>
<div class="t" style="left:941.65px;top:298.76px;font-size:6.6px;line-height:6.6px;color:#000;font-weight:normal;transform:translateX(-50%) scaleX(1.0000);transform-origin:center center;-webkit-text-stroke:0.3px #000;">5644</div>
<div class="t" style="left:941.65px;top:312.85px;font-size:6.5px;line-height:6.5px;color:#000;font-weight:normal;transform:translateX(-50%) scaleX(1.0000);transform-origin:center center;-webkit-text-stroke:0.3px #000;">14064</div>
<div class="t" style="left:941.65px;top:332.72px;font-size:6.3px;line-height:6.3px;color:#fff;font-weight:bold;transform:translateX(-50%) scaleX(1.0000);transform-origin:center center;-webkit-text-stroke:0.15px currentColor;">40%</div>
<div style="left:119px;top:65px;width:847px;height:1px;background:#1b1f2a;"></div>
<div style="left:119px;top:65px;width:1px;height:284px;background:#1b1f2a;"></div>
<div style="left:161px;top:65px;width:1px;height:284px;background:#1b1f2a;"></div>
<div style="left:203px;top:65px;width:1px;height:284px;background:#1b1f2a;"></div>
<div style="left:245px;top:65px;width:1px;height:284px;background:#1b1f2a;"></div>
<div style="left:287px;top:65px;width:1px;height:284px;background:#1b1f2a;"></div>
<div style="left:329px;top:65px;width:1px;height:284px;background:#1b1f2a;"></div>
<div style="left:371px;top:65px;width:1px;height:284px;background:#1b1f2a;"></div>
<div style="left:413px;top:65px;width:1px;height:284px;background:#1b1f2a;"></div>
<div style="left:455px;top:65px;width:1px;height:284px;background:#1b1f2a;"></div>
<div style="left:494px;top:65px;width:1px;height:284px;background:#1b1f2a;"></div>
<div style="left:537px;top:65px;width:1px;height:284px;background:#1b1f2a;"></div>
<div style="left:585px;top:65px;width:1px;height:284px;background:#1b1f2a;"></div>
<div style="left:632px;top:65px;width:1px;height:284px;background:#1b1f2a;"></div>
<div style="left:680px;top:65px;width:1px;height:284px;background:#1b1f2a;"></div>
<div style="left:727px;top:65px;width:1px;height:284px;background:#1b1f2a;"></div>
<div style="left:775px;top:65px;width:1px;height:284px;background:#1b1f2a;"></div>
<div style="left:822px;top:65px;width:1px;height:284px;background:#1b1f2a;"></div>
<div style="left:870px;top:65px;width:1px;height:284px;background:#1b1f2a;"></div>
<div style="left:918px;top:65px;width:1px;height:284px;background:#1b1f2a;"></div>
<div style="left:965px;top:65px;width:1px;height:284px;background:#1b1f2a;"></div>
<div style="left:46px;top:94px;width:1px;height:255px;background:#1b1f2a;"></div>
<div style="left:46px;top:94px;width:920px;height:1px;background:#1b1f2a;"></div>
<div style="left:69px;top:94px;width:1px;height:68px;background:#1c2a44;"></div>
<div style="left:69px;top:201px;width:1px;height:43px;background:#3a0a0a;"></div>
<div style="left:69px;top:119px;width:897px;height:1px;background:#1b1f2a;"></div>
<div style="left:69px;top:135px;width:897px;height:1px;background:#1b1f2a;"></div>
<div style="left:69px;top:161px;width:897px;height:1px;background:#1b1f2a;"></div>
<div style="left:46px;top:172px;width:920px;height:1px;background:#1b1f2a;"></div>
<div style="left:46px;top:184px;width:920px;height:1px;background:#1b1f2a;"></div>
<div style="left:46px;top:201px;width:920px;height:1px;background:#1b1f2a;"></div>
<div style="left:69px;top:226px;width:897px;height:1px;background:#3a2020;"></div>
<div style="left:69px;top:235px;width:897px;height:1px;background:#3a2020;"></div>
<div style="left:69px;top:243px;width:897px;height:1px;background:#3a2020;"></div>
<div style="left:46px;top:255px;width:920px;height:1px;background:#1b1f2a;"></div>
<div style="left:46px;top:267px;width:920px;height:1px;background:#1b1f2a;"></div>
<div style="left:46px;top:292px;width:920px;height:1px;background:#1b1f2a;"></div>
<div style="left:46px;top:309px;width:920px;height:1px;background:#1b1f2a;"></div>
<div style="left:46px;top:321px;width:920px;height:1px;background:#1b1f2a;"></div>
<div style="left:46px;top:348px;width:920px;height:1px;background:#1b1f2a;"></div>
<div style="left:142px;top:94px;width:1px;height:42px;background:#39404f;"></div>
<div style="left:142px;top:201px;width:1px;height:26px;background:#402020;"></div>
<div style="left:184px;top:94px;width:1px;height:42px;background:#39404f;"></div>
<div style="left:184px;top:201px;width:1px;height:26px;background:#402020;"></div>
<div style="left:226px;top:94px;width:1px;height:42px;background:#39404f;"></div>
<div style="left:226px;top:135px;width:1px;height:27px;background:#39404f;"></div>
<div style="left:226px;top:201px;width:1px;height:26px;background:#402020;"></div>
<div style="left:268px;top:94px;width:1px;height:42px;background:#39404f;"></div>
<div style="left:268px;top:135px;width:1px;height:27px;background:#39404f;"></div>
<div style="left:268px;top:201px;width:1px;height:26px;background:#402020;"></div>
<div style="left:309px;top:94px;width:1px;height:42px;background:#39404f;"></div>
<div style="left:309px;top:135px;width:1px;height:27px;background:#39404f;"></div>
<div style="left:309px;top:201px;width:1px;height:26px;background:#402020;"></div>
<div style="left:351px;top:94px;width:1px;height:42px;background:#39404f;"></div>
<div style="left:351px;top:135px;width:1px;height:27px;background:#39404f;"></div>
<div style="left:351px;top:201px;width:1px;height:26px;background:#402020;"></div>
<div style="left:393px;top:94px;width:1px;height:42px;background:#39404f;"></div>
<div style="left:393px;top:135px;width:1px;height:27px;background:#39404f;"></div>
<div style="left:393px;top:201px;width:1px;height:26px;background:#402020;"></div>
<div style="left:435px;top:94px;width:1px;height:42px;background:#39404f;"></div>
<div style="left:435px;top:135px;width:1px;height:27px;background:#39404f;"></div>
<div style="left:435px;top:201px;width:1px;height:26px;background:#402020;"></div>
<div style="left:474px;top:94px;width:1px;height:42px;background:#39404f;"></div>
<div style="left:474px;top:135px;width:1px;height:27px;background:#39404f;"></div>
<div style="left:474px;top:201px;width:1px;height:26px;background:#402020;"></div>
<div style="left:513px;top:94px;width:1px;height:42px;background:#39404f;"></div>
<div style="left:513px;top:135px;width:1px;height:27px;background:#39404f;"></div>
<div style="left:513px;top:201px;width:1px;height:26px;background:#402020;"></div>
<div style="left:561px;top:94px;width:1px;height:42px;background:#39404f;"></div>
<div style="left:561px;top:135px;width:1px;height:27px;background:#39404f;"></div>
<div style="left:561px;top:201px;width:1px;height:26px;background:#402020;"></div>
<div style="left:609px;top:94px;width:1px;height:42px;background:#39404f;"></div>
<div style="left:609px;top:135px;width:1px;height:27px;background:#39404f;"></div>
<div style="left:609px;top:201px;width:1px;height:26px;background:#402020;"></div>
<div style="left:656px;top:94px;width:1px;height:42px;background:#39404f;"></div>
<div style="left:656px;top:135px;width:1px;height:27px;background:#39404f;"></div>
<div style="left:656px;top:201px;width:1px;height:26px;background:#402020;"></div>
<div style="left:703px;top:94px;width:1px;height:42px;background:#39404f;"></div>
<div style="left:703px;top:135px;width:1px;height:27px;background:#39404f;"></div>
<div style="left:703px;top:201px;width:1px;height:26px;background:#402020;"></div>
<div style="left:750px;top:94px;width:1px;height:42px;background:#39404f;"></div>
<div style="left:750px;top:135px;width:1px;height:27px;background:#39404f;"></div>
<div style="left:750px;top:201px;width:1px;height:26px;background:#402020;"></div>
<div style="left:798px;top:94px;width:1px;height:42px;background:#39404f;"></div>
<div style="left:798px;top:135px;width:1px;height:27px;background:#39404f;"></div>
<div style="left:798px;top:201px;width:1px;height:26px;background:#402020;"></div>
<div style="left:846px;top:94px;width:1px;height:42px;background:#39404f;"></div>
<div style="left:846px;top:135px;width:1px;height:27px;background:#39404f;"></div>
<div style="left:846px;top:201px;width:1px;height:26px;background:#402020;"></div>
<div style="left:893px;top:94px;width:1px;height:42px;background:#39404f;"></div>
<div style="left:893px;top:135px;width:1px;height:27px;background:#39404f;"></div>
<div style="left:893px;top:201px;width:1px;height:26px;background:#402020;"></div>
<div style="left:941px;top:94px;width:1px;height:42px;background:#39404f;"></div>
<div style="left:941px;top:135px;width:1px;height:27px;background:#39404f;"></div>
<div style="left:941px;top:201px;width:1px;height:26px;background:#402020;"></div>
<div class="t" id="w28" style="left:48.70px;top:354.73px;font-size:6.4px;line-height:6.4px;color:#000;font-weight:bold;transform:scaleX(0.9584);transform-origin:left center;-webkit-text-stroke:0.15px #000;">**Should be noted the numbers provided weekly are a snapshot of the day ** This summary data document was created by the Los Angeles County Sheriff's Department as an internal population management tool.&nbsp; The information contained within this report is deemed accurate only as of the generation date and</div>
<div class="t" id="w29" style="left:48.70px;top:363.68px;font-size:6.4px;line-height:6.4px;color:#000;font-weight:bold;transform:scaleX(0.9553);transform-origin:left center;-webkit-text-stroke:0.15px #000;">time due to the constant, dynamic change of the population.&nbsp; The Department makes no warranties, express or implied, as to the fitness of this information for any purpose, or with respect to results obtained by individuals or other entities resulting from the use of any such information.&nbsp; The report has been</div>
<div class="t" id="w30" style="left:48.70px;top:372.63px;font-size:6.4px;line-height:6.4px;color:#000;font-weight:bold;transform:scaleX(0.9403);transform-origin:left center;-webkit-text-stroke:0.15px #000;">compiled on a best efforts basis, and, the information is subject to daily change.</div>
</div></body></html>
